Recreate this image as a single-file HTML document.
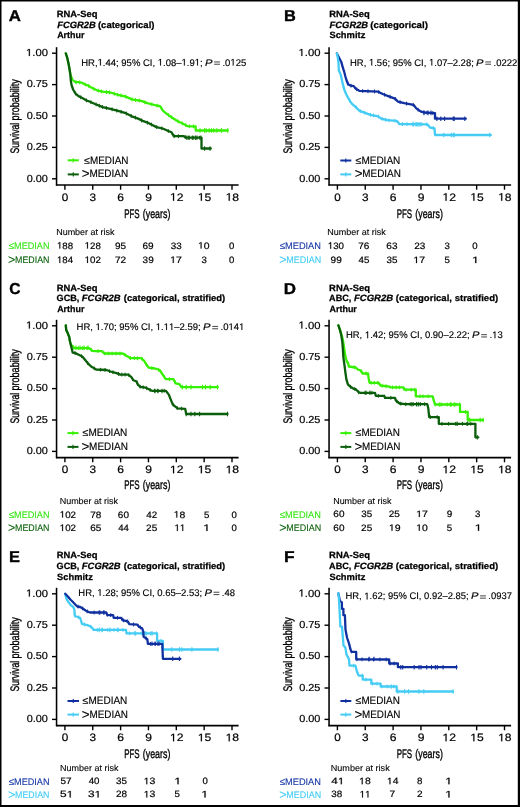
<!DOCTYPE html>
<html><head><meta charset="utf-8"><style>
html,body{margin:0;padding:0;background:#fff;}
svg{display:block;font-family:"Liberation Sans", sans-serif;}
text{white-space:pre;}
svg{will-change:transform;text-rendering:geometricPrecision;}
</style></head><body>
<svg width="520" height="807" viewBox="0 0 520 807" xmlns="http://www.w3.org/2000/svg">
<rect x="0" y="0" width="520" height="807" fill="#fff"/>
<text x="8.78" y="20.70" font-size="15.8" font-weight="bold" textLength="12.16" lengthAdjust="spacingAndGlyphs" stroke="#000" stroke-width="0.35">A</text>
<text x="56.77" y="16.55" font-size="9.1" font-weight="bold" textLength="40.66" lengthAdjust="spacingAndGlyphs" stroke="#000" stroke-width="0.25">RNA-Seq</text>
<text x="57.24" y="27.65" font-size="9.1" font-weight="bold" font-style="italic" textLength="38.51" lengthAdjust="spacingAndGlyphs" stroke="#000" stroke-width="0.25">FCGR2B</text>
<text x="97.93" y="27.65" font-size="9.1" font-weight="bold" textLength="56.55" lengthAdjust="spacingAndGlyphs" stroke="#000" stroke-width="0.25">(categorical)</text>
<text x="57.18" y="38.45" font-size="9.1" font-weight="bold" textLength="27.26" lengthAdjust="spacingAndGlyphs" stroke="#000" stroke-width="0.25">Arthur</text>
<line x1="56.55" y1="47.20" x2="56.55" y2="185.60" stroke="#000" stroke-width="1.55"/>
<line x1="55.95" y1="185.00" x2="238.60" y2="185.00" stroke="#000" stroke-width="1.6"/>
<line x1="52.00" y1="53.20" x2="56.55" y2="53.20" stroke="#000" stroke-width="1.4"/>
<path d="M28.85 56.00 L28.85 49.84 L27.10 50.97 L27.10 50.12 L28.93 48.98 L29.84 48.98 L29.84 56.00 Z" fill="#000" stroke="#000" stroke-width="0.2"/>
<text x="26.02" y="56.00" font-size="10.2" textLength="21.92" lengthAdjust="spacingAndGlyphs" stroke="#000" stroke-width="0.2"> .00</text>
<line x1="52.00" y1="84.60" x2="56.55" y2="84.60" stroke="#000" stroke-width="1.4"/>
<text x="26.67" y="87.40" font-size="10.2" textLength="21.29" lengthAdjust="spacingAndGlyphs" stroke="#000" stroke-width="0.2">0.75</text>
<line x1="52.00" y1="116.00" x2="56.55" y2="116.00" stroke="#000" stroke-width="1.4"/>
<text x="26.67" y="118.80" font-size="10.2" textLength="21.25" lengthAdjust="spacingAndGlyphs" stroke="#000" stroke-width="0.2">0.50</text>
<line x1="52.00" y1="147.40" x2="56.55" y2="147.40" stroke="#000" stroke-width="1.4"/>
<text x="26.67" y="150.20" font-size="10.2" textLength="21.29" lengthAdjust="spacingAndGlyphs" stroke="#000" stroke-width="0.2">0.25</text>
<line x1="52.00" y1="178.80" x2="56.55" y2="178.80" stroke="#000" stroke-width="1.4"/>
<text x="26.67" y="181.60" font-size="10.2" textLength="21.25" lengthAdjust="spacingAndGlyphs" stroke="#000" stroke-width="0.2">0.00</text>
<line x1="64.90" y1="185.00" x2="64.90" y2="189.70" stroke="#000" stroke-width="1.4"/>
<text x="61.74" y="200.70" font-size="10.8" textLength="6.52" lengthAdjust="spacingAndGlyphs" stroke="#000" stroke-width="0.2">0</text>
<line x1="92.75" y1="185.00" x2="92.75" y2="189.70" stroke="#000" stroke-width="1.4"/>
<text x="89.60" y="200.70" font-size="10.8" textLength="6.57" lengthAdjust="spacingAndGlyphs" stroke="#000" stroke-width="0.2">3</text>
<line x1="120.60" y1="185.00" x2="120.60" y2="189.70" stroke="#000" stroke-width="1.4"/>
<text x="117.28" y="200.70" font-size="10.8" textLength="6.75" lengthAdjust="spacingAndGlyphs" stroke="#000" stroke-width="0.2">6</text>
<line x1="148.45" y1="185.00" x2="148.45" y2="189.70" stroke="#000" stroke-width="1.4"/>
<text x="145.18" y="200.70" font-size="10.8" textLength="6.74" lengthAdjust="spacingAndGlyphs" stroke="#000" stroke-width="0.2">9</text>
<line x1="176.30" y1="185.00" x2="176.30" y2="189.70" stroke="#000" stroke-width="1.4"/>
<path d="M173.00 200.70 L173.00 194.18 L171.10 195.37 L171.10 194.48 L173.09 193.27 L174.08 193.27 L174.08 200.70 Z" fill="#000" stroke="#000" stroke-width="0.2"/>
<text x="169.92" y="200.70" font-size="10.8" textLength="13.59" lengthAdjust="spacingAndGlyphs" stroke="#000" stroke-width="0.2"> 2</text>
<line x1="204.15" y1="185.00" x2="204.15" y2="189.70" stroke="#000" stroke-width="1.4"/>
<path d="M200.83 200.70 L200.83 194.18 L198.95 195.37 L198.95 194.48 L200.92 193.27 L201.90 193.27 L201.90 200.70 Z" fill="#000" stroke="#000" stroke-width="0.2"/>
<text x="197.78" y="200.70" font-size="10.8" textLength="13.47" lengthAdjust="spacingAndGlyphs" stroke="#000" stroke-width="0.2"> 5</text>
<line x1="232.00" y1="185.00" x2="232.00" y2="189.70" stroke="#000" stroke-width="1.4"/>
<path d="M228.68 200.70 L228.68 194.18 L226.80 195.37 L226.80 194.48 L228.77 193.27 L229.76 193.27 L229.76 200.70 Z" fill="#000" stroke="#000" stroke-width="0.2"/>
<text x="225.63" y="200.70" font-size="10.8" textLength="13.49" lengthAdjust="spacingAndGlyphs" stroke="#000" stroke-width="0.2"> 8</text>
<text x="124.25" y="217.60" font-size="12.4" textLength="15.41" lengthAdjust="spacingAndGlyphs" stroke="#000" stroke-width="0.35">PFS</text>
<text x="142.85" y="217.60" font-size="12.4" textLength="27.50" lengthAdjust="spacingAndGlyphs" stroke="#000" stroke-width="0.35">(years)</text>
<text x="19.20" y="153.49" font-size="12.4" textLength="30.77" lengthAdjust="spacingAndGlyphs" stroke="#000" stroke-width="0.35" transform="rotate(-90 19.20 153.49)">Survival</text>
<text x="19.20" y="120.38" font-size="12.4" textLength="41.20" lengthAdjust="spacingAndGlyphs" stroke="#000" stroke-width="0.35" transform="rotate(-90 19.20 120.38)">probability</text>
<path d="M99.96 65.50 L99.96 59.70 L98.49 60.77 L98.49 59.97 L100.03 58.90 L100.80 58.90 L100.80 65.50 Z" fill="#000" stroke="#000" stroke-width="0.15"/>
<path d="M160.14 65.50 L160.14 59.70 L158.67 60.77 L158.67 59.97 L160.21 58.90 L160.98 58.90 L160.98 65.50 Z" fill="#000" stroke="#000" stroke-width="0.15"/>
<path d="M183.91 65.50 L183.91 59.70 L182.43 60.77 L182.43 59.97 L183.98 58.90 L184.75 58.90 L184.75 65.50 Z" fill="#000" stroke="#000" stroke-width="0.15"/>
<path d="M197.11 65.50 L197.11 59.70 L195.63 60.77 L195.63 59.97 L197.18 58.90 L197.95 58.90 L197.95 65.50 Z" fill="#000" stroke="#000" stroke-width="0.15"/>
<text x="81.22" y="65.50" font-size="9.6" textLength="124.06" lengthAdjust="spacingAndGlyphs" stroke="#000" stroke-width="0.15">HR, .44; 95% CI,  .08– .9 ; </text>
<text x="204.98" y="65.50" font-size="9.6" font-style="italic" textLength="7.47" lengthAdjust="spacingAndGlyphs" stroke="#000" stroke-width="0.15">P</text>
<line x1="214.12" y1="61.95" x2="219.92" y2="61.95" stroke="#555" stroke-width="1.1"/>
<line x1="214.12" y1="64.25" x2="219.92" y2="64.25" stroke="#555" stroke-width="1.1"/>
<path d="M232.74 65.50 L232.74 59.70 L231.27 60.77 L231.27 59.97 L232.81 58.90 L233.58 58.90 L233.58 65.50 Z" fill="#000" stroke="#000" stroke-width="0.15"/>
<text x="219.80" y="65.50" font-size="9.6" textLength="26.40" lengthAdjust="spacingAndGlyphs" stroke="#000" stroke-width="0.15"> .0 25</text>
<path d="M65.8 53.4 L67.3 58.0 L68.5 63.4 L69.6 69.5 L70.4 74.9 L70.8 75.7 L72.3 79.5 L75.4 82.2 L78.5 82.2 L81.5 82.6 L84.6 84.2 L88.5 85.7 L90.8 87.2 L93.8 88.8 L96.9 90.3 L102.7 91.7 L110.4 92.5 L118.1 94.8 L125.8 96.6 L131.9 99.4 L141.2 100.9 L147.3 103.2 L156.5 105.5 L160.0 106.2 L163.1 110.8 L167.7 114.6 L172.3 117.7 L176.9 120.8 L183.1 123.8 L187.7 126.2 L195.7 126.5 L195.7 130.5 L227.7 130.5" fill="none" stroke="#35f000" stroke-width="2.3" stroke-linejoin="round" stroke-linecap="round"/>
<line x1="200.0" y1="128.2" x2="200.0" y2="132.8" stroke="#35f000" stroke-width="1.1"/>
<line x1="204.6" y1="128.2" x2="204.6" y2="132.8" stroke="#35f000" stroke-width="1.1"/>
<line x1="206.2" y1="128.2" x2="206.2" y2="132.8" stroke="#35f000" stroke-width="1.1"/>
<line x1="209.2" y1="128.2" x2="209.2" y2="132.8" stroke="#35f000" stroke-width="1.1"/>
<line x1="211.5" y1="128.2" x2="211.5" y2="132.8" stroke="#35f000" stroke-width="1.1"/>
<line x1="213.8" y1="128.2" x2="213.8" y2="132.8" stroke="#35f000" stroke-width="1.1"/>
<line x1="216.9" y1="128.2" x2="216.9" y2="132.8" stroke="#35f000" stroke-width="1.1"/>
<line x1="221.5" y1="128.2" x2="221.5" y2="132.8" stroke="#35f000" stroke-width="1.1"/>
<line x1="227.7" y1="128.2" x2="227.7" y2="132.8" stroke="#35f000" stroke-width="1.1"/>
<line x1="76.1" y1="80.3" x2="76.1" y2="84.1" stroke="#35f000" stroke-width="1.0"/>
<line x1="79.7" y1="80.5" x2="79.7" y2="84.3" stroke="#35f000" stroke-width="1.0"/>
<line x1="85.3" y1="82.6" x2="85.3" y2="86.4" stroke="#35f000" stroke-width="1.0"/>
<line x1="88.6" y1="83.9" x2="88.6" y2="87.7" stroke="#35f000" stroke-width="1.0"/>
<line x1="93.7" y1="86.9" x2="93.7" y2="90.7" stroke="#35f000" stroke-width="1.0"/>
<line x1="98.2" y1="88.7" x2="98.2" y2="92.5" stroke="#35f000" stroke-width="1.0"/>
<line x1="101.4" y1="89.5" x2="101.4" y2="93.3" stroke="#35f000" stroke-width="1.0"/>
<line x1="106.5" y1="90.2" x2="106.5" y2="94.0" stroke="#35f000" stroke-width="1.0"/>
<line x1="109.6" y1="90.5" x2="109.6" y2="94.3" stroke="#35f000" stroke-width="1.0"/>
<line x1="114.3" y1="91.8" x2="114.3" y2="95.6" stroke="#35f000" stroke-width="1.0"/>
<line x1="117.6" y1="92.8" x2="117.6" y2="96.6" stroke="#35f000" stroke-width="1.0"/>
<line x1="121.0" y1="93.6" x2="121.0" y2="97.4" stroke="#35f000" stroke-width="1.0"/>
<line x1="125.7" y1="94.7" x2="125.7" y2="98.5" stroke="#35f000" stroke-width="1.0"/>
<line x1="132.0" y1="97.5" x2="132.0" y2="101.3" stroke="#35f000" stroke-width="1.0"/>
<line x1="135.5" y1="98.1" x2="135.5" y2="101.9" stroke="#35f000" stroke-width="1.0"/>
<line x1="139.4" y1="98.7" x2="139.4" y2="102.5" stroke="#35f000" stroke-width="1.0"/>
<line x1="144.9" y1="100.4" x2="144.9" y2="104.2" stroke="#35f000" stroke-width="1.0"/>
<line x1="151.7" y1="102.4" x2="151.7" y2="106.2" stroke="#35f000" stroke-width="1.0"/>
<line x1="157.0" y1="103.7" x2="157.0" y2="107.5" stroke="#35f000" stroke-width="1.0"/>
<line x1="161.6" y1="106.6" x2="161.6" y2="110.4" stroke="#35f000" stroke-width="1.0"/>
<line x1="168.5" y1="113.2" x2="168.5" y2="117.0" stroke="#35f000" stroke-width="1.0"/>
<line x1="171.7" y1="115.4" x2="171.7" y2="119.2" stroke="#35f000" stroke-width="1.0"/>
<line x1="178.1" y1="119.5" x2="178.1" y2="123.3" stroke="#35f000" stroke-width="1.0"/>
<line x1="182.3" y1="121.5" x2="182.3" y2="125.3" stroke="#35f000" stroke-width="1.0"/>
<line x1="185.8" y1="123.3" x2="185.8" y2="127.1" stroke="#35f000" stroke-width="1.0"/>
<line x1="189.3" y1="124.4" x2="189.3" y2="128.2" stroke="#35f000" stroke-width="1.0"/>
<line x1="193.5" y1="124.5" x2="193.5" y2="128.3" stroke="#35f000" stroke-width="1.0"/>
<path d="M65.8 53.4 L67.3 58.0 L68.5 63.4 L69.6 69.5 L70.4 74.9 L70.8 80.3 L71.5 84.9 L73.1 89.5 L75.4 93.4 L78.5 96.1 L82.3 98.0 L86.2 100.3 L90.0 101.8 L95.0 104.0 L102.7 107.1 L110.4 108.9 L118.1 110.9 L125.8 113.2 L131.9 116.3 L138.1 118.6 L142.7 120.9 L148.8 123.2 L156.5 127.1 L162.7 128.5 L167.7 130.8 L171.5 132.3 L173.8 136.2 L183.8 136.2 L186.2 137.7 L201.5 137.7 L201.5 148.5 L210.8 148.5" fill="none" stroke="#0b5e0b" stroke-width="2.3" stroke-linejoin="round" stroke-linecap="round"/>
<line x1="186.9" y1="135.4" x2="186.9" y2="140.0" stroke="#0b5e0b" stroke-width="1.1"/>
<line x1="189.2" y1="135.4" x2="189.2" y2="140.0" stroke="#0b5e0b" stroke-width="1.1"/>
<line x1="192.3" y1="135.4" x2="192.3" y2="140.0" stroke="#0b5e0b" stroke-width="1.1"/>
<line x1="195.4" y1="135.4" x2="195.4" y2="140.0" stroke="#0b5e0b" stroke-width="1.1"/>
<line x1="196.9" y1="135.4" x2="196.9" y2="140.0" stroke="#0b5e0b" stroke-width="1.1"/>
<line x1="200.8" y1="135.4" x2="200.8" y2="140.0" stroke="#0b5e0b" stroke-width="1.1"/>
<line x1="204.6" y1="146.2" x2="204.6" y2="150.8" stroke="#0b5e0b" stroke-width="1.1"/>
<line x1="210.0" y1="146.2" x2="210.0" y2="150.8" stroke="#0b5e0b" stroke-width="1.1"/>
<line x1="75.5" y1="91.6" x2="75.5" y2="95.4" stroke="#0b5e0b" stroke-width="1.0"/>
<line x1="80.8" y1="95.4" x2="80.8" y2="99.2" stroke="#0b5e0b" stroke-width="1.0"/>
<line x1="86.4" y1="98.5" x2="86.4" y2="102.3" stroke="#0b5e0b" stroke-width="1.0"/>
<line x1="90.9" y1="100.3" x2="90.9" y2="104.1" stroke="#0b5e0b" stroke-width="1.0"/>
<line x1="96.1" y1="102.5" x2="96.1" y2="106.3" stroke="#0b5e0b" stroke-width="1.0"/>
<line x1="99.3" y1="103.8" x2="99.3" y2="107.6" stroke="#0b5e0b" stroke-width="1.0"/>
<line x1="102.6" y1="105.1" x2="102.6" y2="108.9" stroke="#0b5e0b" stroke-width="1.0"/>
<line x1="106.4" y1="106.1" x2="106.4" y2="109.9" stroke="#0b5e0b" stroke-width="1.0"/>
<line x1="112.1" y1="107.4" x2="112.1" y2="111.2" stroke="#0b5e0b" stroke-width="1.0"/>
<line x1="116.8" y1="108.7" x2="116.8" y2="112.5" stroke="#0b5e0b" stroke-width="1.0"/>
<line x1="121.1" y1="109.9" x2="121.1" y2="113.7" stroke="#0b5e0b" stroke-width="1.0"/>
<line x1="126.4" y1="111.6" x2="126.4" y2="115.4" stroke="#0b5e0b" stroke-width="1.0"/>
<line x1="131.2" y1="114.1" x2="131.2" y2="117.9" stroke="#0b5e0b" stroke-width="1.0"/>
<line x1="135.4" y1="115.7" x2="135.4" y2="119.5" stroke="#0b5e0b" stroke-width="1.0"/>
<line x1="141.6" y1="118.5" x2="141.6" y2="122.3" stroke="#0b5e0b" stroke-width="1.0"/>
<line x1="147.4" y1="120.8" x2="147.4" y2="124.6" stroke="#0b5e0b" stroke-width="1.0"/>
<line x1="151.4" y1="122.6" x2="151.4" y2="126.4" stroke="#0b5e0b" stroke-width="1.0"/>
<line x1="156.7" y1="125.2" x2="156.7" y2="129.0" stroke="#0b5e0b" stroke-width="1.0"/>
<line x1="161.8" y1="126.4" x2="161.8" y2="130.2" stroke="#0b5e0b" stroke-width="1.0"/>
<line x1="168.3" y1="129.1" x2="168.3" y2="132.9" stroke="#0b5e0b" stroke-width="1.0"/>
<line x1="174.2" y1="134.3" x2="174.2" y2="138.1" stroke="#0b5e0b" stroke-width="1.0"/>
<line x1="178.4" y1="134.3" x2="178.4" y2="138.1" stroke="#0b5e0b" stroke-width="1.0"/>
<line x1="185.3" y1="135.2" x2="185.3" y2="139.0" stroke="#0b5e0b" stroke-width="1.0"/>
<line x1="188.8" y1="135.8" x2="188.8" y2="139.6" stroke="#0b5e0b" stroke-width="1.0"/>
<line x1="193.4" y1="135.8" x2="193.4" y2="139.6" stroke="#0b5e0b" stroke-width="1.0"/>
<line x1="199.5" y1="135.8" x2="199.5" y2="139.6" stroke="#0b5e0b" stroke-width="1.0"/>
<line x1="67.70" y1="160.30" x2="78.80" y2="160.30" stroke="#35f000" stroke-width="2.0"/>
<line x1="73.25" y1="158.20" x2="73.25" y2="162.40" stroke="#35f000" stroke-width="1.1"/>
<line x1="67.70" y1="174.40" x2="78.80" y2="174.40" stroke="#0b5e0b" stroke-width="2.0"/>
<line x1="73.25" y1="172.30" x2="73.25" y2="176.50" stroke="#0b5e0b" stroke-width="1.1"/>
<text x="84.07" y="164.00" font-size="10.31" textLength="5.86" lengthAdjust="spacingAndGlyphs" stroke="#000" stroke-width="0.15">≤</text>
<text x="89.99" y="163.80" font-size="10.9" textLength="38.52" lengthAdjust="spacingAndGlyphs" stroke="#000" stroke-width="0.15">MEDIAN</text>
<text x="81.84" y="177.92" font-size="13.59" textLength="7.81" lengthAdjust="spacingAndGlyphs" stroke="#000" stroke-width="0.15">&gt;</text>
<text x="89.38" y="177.30" font-size="10.9" textLength="38.83" lengthAdjust="spacingAndGlyphs" stroke="#000" stroke-width="0.15">MEDIAN</text>
<text x="56.16" y="234.70" font-size="8.8" textLength="58.42" lengthAdjust="spacingAndGlyphs" stroke="#000" stroke-width="0.1">Number at risk</text>
<text x="8.65" y="249.45" font-size="9.82" textLength="5.41" lengthAdjust="spacingAndGlyphs" fill="#33e611" stroke="#33e611" stroke-width="0.1">≤</text>
<text x="14.05" y="248.95" font-size="9.6" textLength="35.49" lengthAdjust="spacingAndGlyphs" fill="#33e611" stroke="#33e611" stroke-width="0.1">MEDIAN</text>
<text x="7.88" y="264.34" font-size="13.19" textLength="7.33" lengthAdjust="spacingAndGlyphs" fill="#0b610b" stroke="#0b610b" stroke-width="0.1">&gt;</text>
<text x="15.07" y="263.25" font-size="9.6" textLength="34.45" lengthAdjust="spacingAndGlyphs" fill="#0b610b" stroke="#0b610b" stroke-width="0.1">MEDIAN</text>
<path d="M59.41 248.60 L59.41 243.04 L57.90 244.06 L57.90 243.30 L59.48 242.27 L60.27 242.27 L60.27 248.60 Z" fill="#000" stroke="#000" stroke-width="0.2"/>
<text x="56.96" y="248.60" font-size="9.2" textLength="16.26" lengthAdjust="spacingAndGlyphs" stroke="#000" stroke-width="0.2"> 88</text>
<path d="M87.06 248.60 L87.06 243.04 L85.55 244.06 L85.55 243.30 L87.13 242.27 L87.92 242.27 L87.92 248.60 Z" fill="#000" stroke="#000" stroke-width="0.2"/>
<text x="84.61" y="248.60" font-size="9.2" textLength="16.26" lengthAdjust="spacingAndGlyphs" stroke="#000" stroke-width="0.2"> 28</text>
<text x="115.03" y="248.60" font-size="9.2" textLength="11.09" lengthAdjust="spacingAndGlyphs" stroke="#000" stroke-width="0.2">95</text>
<text x="142.49" y="248.60" font-size="9.2" textLength="11.19" lengthAdjust="spacingAndGlyphs" stroke="#000" stroke-width="0.2">69</text>
<text x="170.77" y="248.60" font-size="9.2" textLength="11.01" lengthAdjust="spacingAndGlyphs" stroke="#000" stroke-width="0.2">33</text>
<path d="M200.62 248.60 L200.62 243.04 L199.00 244.06 L199.00 243.30 L200.70 242.27 L201.54 242.27 L201.54 248.60 Z" fill="#000" stroke="#000" stroke-width="0.2"/>
<text x="198.00" y="248.60" font-size="9.2" textLength="11.61" lengthAdjust="spacingAndGlyphs" stroke="#000" stroke-width="0.2"> 0</text>
<text x="228.92" y="248.60" font-size="9.2" textLength="5.35" lengthAdjust="spacingAndGlyphs" stroke="#000" stroke-width="0.2">0</text>
<path d="M59.40 262.90 L59.40 257.34 L57.90 258.36 L57.90 257.60 L59.47 256.57 L60.25 256.57 L60.25 262.90 Z" fill="#000" stroke="#000" stroke-width="0.2"/>
<text x="56.97" y="262.90" font-size="9.2" textLength="16.11" lengthAdjust="spacingAndGlyphs" stroke="#000" stroke-width="0.2"> 84</text>
<path d="M87.07 262.90 L87.07 257.34 L85.55 258.36 L85.55 257.60 L87.14 256.57 L87.94 256.57 L87.94 262.90 Z" fill="#000" stroke="#000" stroke-width="0.2"/>
<text x="84.61" y="262.90" font-size="9.2" textLength="16.33" lengthAdjust="spacingAndGlyphs" stroke="#000" stroke-width="0.2"> 02</text>
<text x="114.98" y="262.90" font-size="9.2" textLength="11.22" lengthAdjust="spacingAndGlyphs" stroke="#000" stroke-width="0.2">72</text>
<text x="142.62" y="262.90" font-size="9.2" textLength="11.05" lengthAdjust="spacingAndGlyphs" stroke="#000" stroke-width="0.2">39</text>
<path d="M172.79 262.90 L172.79 257.34 L171.15 258.36 L171.15 257.60 L172.87 256.57 L173.72 256.57 L173.72 262.90 Z" fill="#000" stroke="#000" stroke-width="0.2"/>
<text x="170.13" y="262.90" font-size="9.2" textLength="11.75" lengthAdjust="spacingAndGlyphs" stroke="#000" stroke-width="0.2"> 7</text>
<text x="201.43" y="262.90" font-size="9.2" textLength="5.40" lengthAdjust="spacingAndGlyphs" stroke="#000" stroke-width="0.2">3</text>
<text x="228.92" y="262.90" font-size="9.2" textLength="5.35" lengthAdjust="spacingAndGlyphs" stroke="#000" stroke-width="0.2">0</text>
<text x="283.90" y="20.80" font-size="15.8" font-weight="bold" textLength="11.84" lengthAdjust="spacingAndGlyphs" stroke="#000" stroke-width="0.35">B</text>
<text x="329.17" y="16.55" font-size="9.1" font-weight="bold" textLength="40.66" lengthAdjust="spacingAndGlyphs" stroke="#000" stroke-width="0.25">RNA-Seq</text>
<text x="329.64" y="27.65" font-size="9.1" font-weight="bold" font-style="italic" textLength="38.51" lengthAdjust="spacingAndGlyphs" stroke="#000" stroke-width="0.25">FCGR2B</text>
<text x="370.32" y="27.65" font-size="9.1" font-weight="bold" textLength="57.56" lengthAdjust="spacingAndGlyphs" stroke="#000" stroke-width="0.25">(categorical)</text>
<text x="329.43" y="38.45" font-size="9.1" font-weight="bold" textLength="35.91" lengthAdjust="spacingAndGlyphs" stroke="#000" stroke-width="0.25">Schmitz</text>
<line x1="329.05" y1="47.20" x2="329.05" y2="185.60" stroke="#000" stroke-width="1.55"/>
<line x1="328.45" y1="185.00" x2="511.10" y2="185.00" stroke="#000" stroke-width="1.6"/>
<line x1="324.50" y1="53.20" x2="329.05" y2="53.20" stroke="#000" stroke-width="1.4"/>
<path d="M301.35 56.00 L301.35 49.84 L299.60 50.97 L299.60 50.12 L301.43 48.98 L302.34 48.98 L302.34 56.00 Z" fill="#000" stroke="#000" stroke-width="0.2"/>
<text x="298.52" y="56.00" font-size="10.2" textLength="21.92" lengthAdjust="spacingAndGlyphs" stroke="#000" stroke-width="0.2"> .00</text>
<line x1="324.50" y1="84.60" x2="329.05" y2="84.60" stroke="#000" stroke-width="1.4"/>
<text x="299.17" y="87.40" font-size="10.2" textLength="21.29" lengthAdjust="spacingAndGlyphs" stroke="#000" stroke-width="0.2">0.75</text>
<line x1="324.50" y1="116.00" x2="329.05" y2="116.00" stroke="#000" stroke-width="1.4"/>
<text x="299.17" y="118.80" font-size="10.2" textLength="21.25" lengthAdjust="spacingAndGlyphs" stroke="#000" stroke-width="0.2">0.50</text>
<line x1="324.50" y1="147.40" x2="329.05" y2="147.40" stroke="#000" stroke-width="1.4"/>
<text x="299.17" y="150.20" font-size="10.2" textLength="21.29" lengthAdjust="spacingAndGlyphs" stroke="#000" stroke-width="0.2">0.25</text>
<line x1="324.50" y1="178.80" x2="329.05" y2="178.80" stroke="#000" stroke-width="1.4"/>
<text x="299.17" y="181.60" font-size="10.2" textLength="21.25" lengthAdjust="spacingAndGlyphs" stroke="#000" stroke-width="0.2">0.00</text>
<line x1="337.40" y1="185.00" x2="337.40" y2="189.70" stroke="#000" stroke-width="1.4"/>
<text x="334.24" y="200.70" font-size="10.8" textLength="6.52" lengthAdjust="spacingAndGlyphs" stroke="#000" stroke-width="0.2">0</text>
<line x1="365.25" y1="185.00" x2="365.25" y2="189.70" stroke="#000" stroke-width="1.4"/>
<text x="362.10" y="200.70" font-size="10.8" textLength="6.57" lengthAdjust="spacingAndGlyphs" stroke="#000" stroke-width="0.2">3</text>
<line x1="393.10" y1="185.00" x2="393.10" y2="189.70" stroke="#000" stroke-width="1.4"/>
<text x="389.78" y="200.70" font-size="10.8" textLength="6.75" lengthAdjust="spacingAndGlyphs" stroke="#000" stroke-width="0.2">6</text>
<line x1="420.95" y1="185.00" x2="420.95" y2="189.70" stroke="#000" stroke-width="1.4"/>
<text x="417.68" y="200.70" font-size="10.8" textLength="6.74" lengthAdjust="spacingAndGlyphs" stroke="#000" stroke-width="0.2">9</text>
<line x1="448.80" y1="185.00" x2="448.80" y2="189.70" stroke="#000" stroke-width="1.4"/>
<path d="M445.50 200.70 L445.50 194.18 L443.60 195.37 L443.60 194.48 L445.59 193.27 L446.58 193.27 L446.58 200.70 Z" fill="#000" stroke="#000" stroke-width="0.2"/>
<text x="442.42" y="200.70" font-size="10.8" textLength="13.59" lengthAdjust="spacingAndGlyphs" stroke="#000" stroke-width="0.2"> 2</text>
<line x1="476.65" y1="185.00" x2="476.65" y2="189.70" stroke="#000" stroke-width="1.4"/>
<path d="M473.33 200.70 L473.33 194.18 L471.45 195.37 L471.45 194.48 L473.42 193.27 L474.40 193.27 L474.40 200.70 Z" fill="#000" stroke="#000" stroke-width="0.2"/>
<text x="470.28" y="200.70" font-size="10.8" textLength="13.47" lengthAdjust="spacingAndGlyphs" stroke="#000" stroke-width="0.2"> 5</text>
<line x1="504.50" y1="185.00" x2="504.50" y2="189.70" stroke="#000" stroke-width="1.4"/>
<path d="M501.18 200.70 L501.18 194.18 L499.30 195.37 L499.30 194.48 L501.27 193.27 L502.26 193.27 L502.26 200.70 Z" fill="#000" stroke="#000" stroke-width="0.2"/>
<text x="498.13" y="200.70" font-size="10.8" textLength="13.49" lengthAdjust="spacingAndGlyphs" stroke="#000" stroke-width="0.2"> 8</text>
<text x="396.75" y="217.60" font-size="12.4" textLength="15.41" lengthAdjust="spacingAndGlyphs" stroke="#000" stroke-width="0.35">PFS</text>
<text x="415.35" y="217.60" font-size="12.4" textLength="27.50" lengthAdjust="spacingAndGlyphs" stroke="#000" stroke-width="0.35">(years)</text>
<text x="291.70" y="153.49" font-size="12.4" textLength="30.77" lengthAdjust="spacingAndGlyphs" stroke="#000" stroke-width="0.35" transform="rotate(-90 291.70 153.49)">Survival</text>
<text x="291.70" y="120.38" font-size="12.4" textLength="41.20" lengthAdjust="spacingAndGlyphs" stroke="#000" stroke-width="0.35" transform="rotate(-90 291.70 120.38)">probability</text>
<path d="M371.36 65.50 L371.36 59.70 L369.89 60.77 L369.89 59.97 L371.43 58.90 L372.19 58.90 L372.19 65.50 Z" fill="#000" stroke="#000" stroke-width="0.15"/>
<path d="M431.41 65.50 L431.41 59.70 L429.93 60.77 L429.93 59.97 L431.47 58.90 L432.24 58.90 L432.24 65.50 Z" fill="#000" stroke="#000" stroke-width="0.15"/>
<text x="350.02" y="65.50" font-size="9.6" textLength="126.42" lengthAdjust="spacingAndGlyphs" stroke="#000" stroke-width="0.15">HR,  .56; 95% CI,  .07–2.28; </text>
<text x="476.14" y="65.50" font-size="9.6" font-style="italic" textLength="7.46" lengthAdjust="spacingAndGlyphs" stroke="#000" stroke-width="0.15">P</text>
<line x1="485.26" y1="61.95" x2="491.06" y2="61.95" stroke="#555" stroke-width="1.1"/>
<line x1="485.26" y1="64.25" x2="491.06" y2="64.25" stroke="#555" stroke-width="1.1"/>
<text x="490.93" y="65.50" font-size="9.6" textLength="26.35" lengthAdjust="spacingAndGlyphs" stroke="#000" stroke-width="0.15"> .0222</text>
<path d="M336.9 53.4 L340.0 59.5 L341.5 62.6 L342.7 67.2 L344.2 71.8 L345.4 76.5 L346.5 80.3 L348.1 84.2 L350.8 85.7 L353.8 86.1 L355.4 88.4 L358.5 90.3 L359.6 90.9 L378.1 91.7 L382.7 94.0 L388.8 96.3 L395.0 98.6 L398.1 101.7 L404.2 103.2 L413.5 104.8 L416.5 108.6 L421.2 111.7 L424.2 112.5 L435.0 113.2 L435.0 118.7 L465.8 118.7" fill="none" stroke="#1030a0" stroke-width="2.3" stroke-linejoin="round" stroke-linecap="round"/>
<line x1="436.9" y1="116.4" x2="436.9" y2="121.0" stroke="#1030a0" stroke-width="1.1"/>
<line x1="440.8" y1="116.4" x2="440.8" y2="121.0" stroke="#1030a0" stroke-width="1.1"/>
<line x1="444.6" y1="116.4" x2="444.6" y2="121.0" stroke="#1030a0" stroke-width="1.1"/>
<line x1="453.3" y1="116.4" x2="453.3" y2="121.0" stroke="#1030a0" stroke-width="1.1"/>
<line x1="454.2" y1="116.4" x2="454.2" y2="121.0" stroke="#1030a0" stroke-width="1.1"/>
<line x1="464.8" y1="116.4" x2="464.8" y2="121.0" stroke="#1030a0" stroke-width="1.1"/>
<line x1="424.0" y1="110.6" x2="424.0" y2="115.2" stroke="#1030a0" stroke-width="1.1"/>
<line x1="428.0" y1="110.6" x2="428.0" y2="115.2" stroke="#1030a0" stroke-width="1.1"/>
<line x1="431.0" y1="110.6" x2="431.0" y2="115.2" stroke="#1030a0" stroke-width="1.1"/>
<line x1="347.9" y1="81.7" x2="347.9" y2="85.5" stroke="#1030a0" stroke-width="1.0"/>
<line x1="351.0" y1="83.8" x2="351.0" y2="87.6" stroke="#1030a0" stroke-width="1.0"/>
<line x1="356.7" y1="87.3" x2="356.7" y2="91.1" stroke="#1030a0" stroke-width="1.0"/>
<line x1="362.7" y1="89.1" x2="362.7" y2="92.9" stroke="#1030a0" stroke-width="1.0"/>
<line x1="368.0" y1="89.4" x2="368.0" y2="93.2" stroke="#1030a0" stroke-width="1.0"/>
<line x1="374.5" y1="89.6" x2="374.5" y2="93.4" stroke="#1030a0" stroke-width="1.0"/>
<line x1="378.8" y1="90.1" x2="378.8" y2="93.9" stroke="#1030a0" stroke-width="1.0"/>
<line x1="384.6" y1="92.8" x2="384.6" y2="96.6" stroke="#1030a0" stroke-width="1.0"/>
<line x1="390.0" y1="94.8" x2="390.0" y2="98.6" stroke="#1030a0" stroke-width="1.0"/>
<line x1="395.3" y1="97.0" x2="395.3" y2="100.8" stroke="#1030a0" stroke-width="1.0"/>
<line x1="400.1" y1="100.3" x2="400.1" y2="104.1" stroke="#1030a0" stroke-width="1.0"/>
<line x1="406.5" y1="101.7" x2="406.5" y2="105.5" stroke="#1030a0" stroke-width="1.0"/>
<line x1="413.2" y1="102.9" x2="413.2" y2="106.7" stroke="#1030a0" stroke-width="1.0"/>
<line x1="418.1" y1="107.8" x2="418.1" y2="111.6" stroke="#1030a0" stroke-width="1.0"/>
<line x1="423.8" y1="110.5" x2="423.8" y2="114.3" stroke="#1030a0" stroke-width="1.0"/>
<line x1="427.0" y1="110.8" x2="427.0" y2="114.6" stroke="#1030a0" stroke-width="1.0"/>
<line x1="432.8" y1="111.2" x2="432.8" y2="115.0" stroke="#1030a0" stroke-width="1.0"/>
<path d="M336.9 53.4 L337.7 57.2 L338.5 63.4 L338.8 70.3 L340.8 74.9 L342.3 81.8 L343.8 88.0 L345.4 92.6 L347.7 97.2 L350.0 101.1 L352.3 104.2 L356.2 107.5 L359.6 110.9 L365.8 113.2 L370.4 114.8 L378.1 116.3 L381.2 118.6 L387.3 120.2 L396.5 120.9 L399.6 124.0 L427.3 124.3 L430.0 127.5 L434.5 128.3 L435.0 135.0 L490.8 135.0" fill="none" stroke="#44ccf4" stroke-width="2.3" stroke-linejoin="round" stroke-linecap="round"/>
<line x1="443.7" y1="132.7" x2="443.7" y2="137.3" stroke="#44ccf4" stroke-width="1.1"/>
<line x1="451.3" y1="132.7" x2="451.3" y2="137.3" stroke="#44ccf4" stroke-width="1.1"/>
<line x1="453.3" y1="132.7" x2="453.3" y2="137.3" stroke="#44ccf4" stroke-width="1.1"/>
<line x1="454.2" y1="132.7" x2="454.2" y2="137.3" stroke="#44ccf4" stroke-width="1.1"/>
<line x1="489.8" y1="132.7" x2="489.8" y2="137.3" stroke="#44ccf4" stroke-width="1.1"/>
<line x1="413.0" y1="122.1" x2="413.0" y2="126.7" stroke="#44ccf4" stroke-width="1.1"/>
<line x1="416.0" y1="122.1" x2="416.0" y2="126.7" stroke="#44ccf4" stroke-width="1.1"/>
<line x1="418.0" y1="122.1" x2="418.0" y2="126.7" stroke="#44ccf4" stroke-width="1.1"/>
<line x1="420.0" y1="122.1" x2="420.0" y2="126.7" stroke="#44ccf4" stroke-width="1.1"/>
<line x1="349.9" y1="99.0" x2="349.9" y2="102.8" stroke="#44ccf4" stroke-width="1.0"/>
<line x1="356.2" y1="105.6" x2="356.2" y2="109.4" stroke="#44ccf4" stroke-width="1.0"/>
<line x1="360.3" y1="109.3" x2="360.3" y2="113.1" stroke="#44ccf4" stroke-width="1.0"/>
<line x1="364.8" y1="110.9" x2="364.8" y2="114.7" stroke="#44ccf4" stroke-width="1.0"/>
<line x1="370.5" y1="112.9" x2="370.5" y2="116.7" stroke="#44ccf4" stroke-width="1.0"/>
<line x1="373.6" y1="113.5" x2="373.6" y2="117.3" stroke="#44ccf4" stroke-width="1.0"/>
<line x1="378.5" y1="114.7" x2="378.5" y2="118.5" stroke="#44ccf4" stroke-width="1.0"/>
<line x1="382.1" y1="116.9" x2="382.1" y2="120.7" stroke="#44ccf4" stroke-width="1.0"/>
<line x1="385.6" y1="117.9" x2="385.6" y2="121.7" stroke="#44ccf4" stroke-width="1.0"/>
<line x1="388.8" y1="118.4" x2="388.8" y2="122.2" stroke="#44ccf4" stroke-width="1.0"/>
<line x1="394.9" y1="118.9" x2="394.9" y2="122.7" stroke="#44ccf4" stroke-width="1.0"/>
<line x1="398.4" y1="120.9" x2="398.4" y2="124.7" stroke="#44ccf4" stroke-width="1.0"/>
<line x1="402.4" y1="122.1" x2="402.4" y2="125.9" stroke="#44ccf4" stroke-width="1.0"/>
<line x1="407.0" y1="122.2" x2="407.0" y2="126.0" stroke="#44ccf4" stroke-width="1.0"/>
<line x1="413.5" y1="122.3" x2="413.5" y2="126.1" stroke="#44ccf4" stroke-width="1.0"/>
<line x1="416.8" y1="122.3" x2="416.8" y2="126.1" stroke="#44ccf4" stroke-width="1.0"/>
<line x1="421.6" y1="122.3" x2="421.6" y2="126.1" stroke="#44ccf4" stroke-width="1.0"/>
<line x1="426.8" y1="122.4" x2="426.8" y2="126.2" stroke="#44ccf4" stroke-width="1.0"/>
<line x1="433.3" y1="126.2" x2="433.3" y2="130.0" stroke="#44ccf4" stroke-width="1.0"/>
<line x1="340.30" y1="160.50" x2="351.30" y2="160.50" stroke="#1030a0" stroke-width="2.0"/>
<line x1="345.80" y1="158.40" x2="345.80" y2="162.60" stroke="#1030a0" stroke-width="1.1"/>
<line x1="340.30" y1="174.40" x2="351.30" y2="174.40" stroke="#44ccf4" stroke-width="2.0"/>
<line x1="345.80" y1="172.30" x2="345.80" y2="176.50" stroke="#44ccf4" stroke-width="1.1"/>
<text x="355.47" y="164.00" font-size="10.31" textLength="5.86" lengthAdjust="spacingAndGlyphs" stroke="#000" stroke-width="0.15">≤</text>
<text x="361.38" y="163.80" font-size="10.9" textLength="38.94" lengthAdjust="spacingAndGlyphs" stroke="#000" stroke-width="0.15">MEDIAN</text>
<text x="354.74" y="177.92" font-size="13.59" textLength="7.81" lengthAdjust="spacingAndGlyphs" stroke="#000" stroke-width="0.15">&gt;</text>
<text x="362.29" y="177.30" font-size="10.9" textLength="38.52" lengthAdjust="spacingAndGlyphs" stroke="#000" stroke-width="0.15">MEDIAN</text>
<text x="327.36" y="234.70" font-size="8.8" textLength="58.42" lengthAdjust="spacingAndGlyphs" stroke="#000" stroke-width="0.1">Number at risk</text>
<text x="279.65" y="249.45" font-size="9.82" textLength="5.41" lengthAdjust="spacingAndGlyphs" fill="#1535a5" stroke="#1535a5" stroke-width="0.1">≤</text>
<text x="285.04" y="248.95" font-size="9.6" textLength="35.91" lengthAdjust="spacingAndGlyphs" fill="#1535a5" stroke="#1535a5" stroke-width="0.1">MEDIAN</text>
<text x="279.18" y="264.34" font-size="13.19" textLength="7.33" lengthAdjust="spacingAndGlyphs" fill="#40ccf4" stroke="#40ccf4" stroke-width="0.1">&gt;</text>
<text x="286.37" y="263.25" font-size="9.6" textLength="34.76" lengthAdjust="spacingAndGlyphs" fill="#40ccf4" stroke="#40ccf4" stroke-width="0.1">MEDIAN</text>
<path d="M330.26 248.70 L330.26 243.14 L328.75 244.16 L328.75 243.40 L330.33 242.37 L331.12 242.37 L331.12 248.70 Z" fill="#000" stroke="#000" stroke-width="0.2"/>
<text x="327.82" y="248.70" font-size="9.2" textLength="16.21" lengthAdjust="spacingAndGlyphs" stroke="#000" stroke-width="0.2"> 30</text>
<text x="358.29" y="248.70" font-size="9.2" textLength="11.15" lengthAdjust="spacingAndGlyphs" stroke="#000" stroke-width="0.2">76</text>
<text x="386.39" y="248.70" font-size="9.2" textLength="11.15" lengthAdjust="spacingAndGlyphs" stroke="#000" stroke-width="0.2">63</text>
<text x="414.15" y="248.70" font-size="9.2" textLength="11.14" lengthAdjust="spacingAndGlyphs" stroke="#000" stroke-width="0.2">23</text>
<text x="444.58" y="248.70" font-size="9.2" textLength="5.40" lengthAdjust="spacingAndGlyphs" stroke="#000" stroke-width="0.2">3</text>
<text x="472.32" y="248.70" font-size="9.2" textLength="5.35" lengthAdjust="spacingAndGlyphs" stroke="#000" stroke-width="0.2">0</text>
<text x="330.63" y="263.10" font-size="9.2" textLength="11.14" lengthAdjust="spacingAndGlyphs" stroke="#000" stroke-width="0.2">99</text>
<text x="358.58" y="263.10" font-size="9.2" textLength="10.83" lengthAdjust="spacingAndGlyphs" stroke="#000" stroke-width="0.2">45</text>
<text x="386.52" y="263.10" font-size="9.2" textLength="10.99" lengthAdjust="spacingAndGlyphs" stroke="#000" stroke-width="0.2">35</text>
<path d="M416.04 263.10 L416.04 257.54 L414.40 258.56 L414.40 257.80 L416.12 256.77 L416.97 256.77 L416.97 263.10 Z" fill="#000" stroke="#000" stroke-width="0.2"/>
<text x="413.38" y="263.10" font-size="9.2" textLength="11.75" lengthAdjust="spacingAndGlyphs" stroke="#000" stroke-width="0.2"> 7</text>
<text x="444.56" y="263.10" font-size="9.2" textLength="5.40" lengthAdjust="spacingAndGlyphs" stroke="#000" stroke-width="0.2">5</text>
<path d="M475.19 263.10 L475.19 257.54 L473.15 258.56 L473.15 257.80 L475.29 256.77 L476.35 256.77 L476.35 263.10 Z" fill="#000" stroke="#000" stroke-width="0.2"/>
<text x="471.89" y="263.10" font-size="9.2" textLength="7.30" lengthAdjust="spacingAndGlyphs" stroke="#000" stroke-width="0.2"> </text>
<text x="9.36" y="294.40" font-size="15.8" font-weight="bold" textLength="11.27" lengthAdjust="spacingAndGlyphs" stroke="#000" stroke-width="0.35">C</text>
<text x="56.77" y="290.55" font-size="9.1" font-weight="bold" textLength="40.66" lengthAdjust="spacingAndGlyphs" stroke="#000" stroke-width="0.25">RNA-Seq</text>
<text x="56.63" y="301.35" font-size="9.1" font-weight="bold" textLength="22.78" lengthAdjust="spacingAndGlyphs" stroke="#000" stroke-width="0.25">GCB,</text>
<text x="81.83" y="301.35" font-size="9.1" font-weight="bold" font-style="italic" textLength="38.82" lengthAdjust="spacingAndGlyphs" stroke="#000" stroke-width="0.25">FCGR2B</text>
<text x="123.83" y="301.35" font-size="9.1" font-weight="bold" textLength="101.44" lengthAdjust="spacingAndGlyphs" stroke="#000" stroke-width="0.25">(categorical, stratified)</text>
<text x="57.18" y="312.45" font-size="9.1" font-weight="bold" textLength="27.26" lengthAdjust="spacingAndGlyphs" stroke="#000" stroke-width="0.25">Arthur</text>
<line x1="56.55" y1="319.80" x2="56.55" y2="458.20" stroke="#000" stroke-width="1.55"/>
<line x1="55.95" y1="457.60" x2="238.60" y2="457.60" stroke="#000" stroke-width="1.6"/>
<line x1="52.00" y1="325.80" x2="56.55" y2="325.80" stroke="#000" stroke-width="1.4"/>
<path d="M28.85 328.60 L28.85 322.44 L27.10 323.57 L27.10 322.72 L28.93 321.58 L29.84 321.58 L29.84 328.60 Z" fill="#000" stroke="#000" stroke-width="0.2"/>
<text x="26.02" y="328.60" font-size="10.2" textLength="21.92" lengthAdjust="spacingAndGlyphs" stroke="#000" stroke-width="0.2"> .00</text>
<line x1="52.00" y1="357.20" x2="56.55" y2="357.20" stroke="#000" stroke-width="1.4"/>
<text x="26.67" y="360.00" font-size="10.2" textLength="21.29" lengthAdjust="spacingAndGlyphs" stroke="#000" stroke-width="0.2">0.75</text>
<line x1="52.00" y1="388.60" x2="56.55" y2="388.60" stroke="#000" stroke-width="1.4"/>
<text x="26.67" y="391.40" font-size="10.2" textLength="21.25" lengthAdjust="spacingAndGlyphs" stroke="#000" stroke-width="0.2">0.50</text>
<line x1="52.00" y1="420.00" x2="56.55" y2="420.00" stroke="#000" stroke-width="1.4"/>
<text x="26.67" y="422.80" font-size="10.2" textLength="21.29" lengthAdjust="spacingAndGlyphs" stroke="#000" stroke-width="0.2">0.25</text>
<line x1="52.00" y1="451.40" x2="56.55" y2="451.40" stroke="#000" stroke-width="1.4"/>
<text x="26.67" y="454.20" font-size="10.2" textLength="21.25" lengthAdjust="spacingAndGlyphs" stroke="#000" stroke-width="0.2">0.00</text>
<line x1="64.90" y1="457.60" x2="64.90" y2="462.30" stroke="#000" stroke-width="1.4"/>
<text x="61.74" y="473.30" font-size="10.8" textLength="6.52" lengthAdjust="spacingAndGlyphs" stroke="#000" stroke-width="0.2">0</text>
<line x1="92.75" y1="457.60" x2="92.75" y2="462.30" stroke="#000" stroke-width="1.4"/>
<text x="89.60" y="473.30" font-size="10.8" textLength="6.57" lengthAdjust="spacingAndGlyphs" stroke="#000" stroke-width="0.2">3</text>
<line x1="120.60" y1="457.60" x2="120.60" y2="462.30" stroke="#000" stroke-width="1.4"/>
<text x="117.28" y="473.30" font-size="10.8" textLength="6.75" lengthAdjust="spacingAndGlyphs" stroke="#000" stroke-width="0.2">6</text>
<line x1="148.45" y1="457.60" x2="148.45" y2="462.30" stroke="#000" stroke-width="1.4"/>
<text x="145.18" y="473.30" font-size="10.8" textLength="6.74" lengthAdjust="spacingAndGlyphs" stroke="#000" stroke-width="0.2">9</text>
<line x1="176.30" y1="457.60" x2="176.30" y2="462.30" stroke="#000" stroke-width="1.4"/>
<path d="M173.00 473.30 L173.00 466.78 L171.10 467.97 L171.10 467.08 L173.09 465.87 L174.08 465.87 L174.08 473.30 Z" fill="#000" stroke="#000" stroke-width="0.2"/>
<text x="169.92" y="473.30" font-size="10.8" textLength="13.59" lengthAdjust="spacingAndGlyphs" stroke="#000" stroke-width="0.2"> 2</text>
<line x1="204.15" y1="457.60" x2="204.15" y2="462.30" stroke="#000" stroke-width="1.4"/>
<path d="M200.83 473.30 L200.83 466.78 L198.95 467.97 L198.95 467.08 L200.92 465.87 L201.90 465.87 L201.90 473.30 Z" fill="#000" stroke="#000" stroke-width="0.2"/>
<text x="197.78" y="473.30" font-size="10.8" textLength="13.47" lengthAdjust="spacingAndGlyphs" stroke="#000" stroke-width="0.2"> 5</text>
<line x1="232.00" y1="457.60" x2="232.00" y2="462.30" stroke="#000" stroke-width="1.4"/>
<path d="M228.68 473.30 L228.68 466.78 L226.80 467.97 L226.80 467.08 L228.77 465.87 L229.76 465.87 L229.76 473.30 Z" fill="#000" stroke="#000" stroke-width="0.2"/>
<text x="225.63" y="473.30" font-size="10.8" textLength="13.49" lengthAdjust="spacingAndGlyphs" stroke="#000" stroke-width="0.2"> 8</text>
<text x="124.25" y="488.60" font-size="12.4" textLength="15.41" lengthAdjust="spacingAndGlyphs" stroke="#000" stroke-width="0.35">PFS</text>
<text x="142.85" y="488.60" font-size="12.4" textLength="27.50" lengthAdjust="spacingAndGlyphs" stroke="#000" stroke-width="0.35">(years)</text>
<text x="19.20" y="423.59" font-size="12.4" textLength="30.77" lengthAdjust="spacingAndGlyphs" stroke="#000" stroke-width="0.35" transform="rotate(-90 19.20 423.59)">Survival</text>
<text x="19.20" y="390.48" font-size="12.4" textLength="41.20" lengthAdjust="spacingAndGlyphs" stroke="#000" stroke-width="0.35" transform="rotate(-90 19.20 390.48)">probability</text>
<path d="M97.93 330.00 L97.93 324.20 L96.45 325.27 L96.45 324.47 L98.00 323.40 L98.77 323.40 L98.77 330.00 Z" fill="#000" stroke="#000" stroke-width="0.15"/>
<path d="M158.19 330.00 L158.19 324.20 L156.71 325.27 L156.71 324.47 L158.26 323.40 L159.03 323.40 L159.03 330.00 Z" fill="#000" stroke="#000" stroke-width="0.15"/>
<path d="M166.12 330.00 L166.12 324.20 L164.64 325.27 L164.64 324.47 L166.19 323.40 L166.96 323.40 L166.96 330.00 Z" fill="#000" stroke="#000" stroke-width="0.15"/>
<path d="M171.41 330.00 L171.41 324.20 L169.93 325.27 L169.93 324.47 L171.47 323.40 L172.25 323.40 L172.25 330.00 Z" fill="#000" stroke="#000" stroke-width="0.15"/>
<text x="76.52" y="330.00" font-size="9.6" textLength="126.86" lengthAdjust="spacingAndGlyphs" stroke="#000" stroke-width="0.15">HR,  .70; 95% CI,  .  –2.59; </text>
<text x="203.08" y="330.00" font-size="9.6" font-style="italic" textLength="7.48" lengthAdjust="spacingAndGlyphs" stroke="#000" stroke-width="0.15">P</text>
<line x1="212.24" y1="326.45" x2="218.04" y2="326.45" stroke="#555" stroke-width="1.1"/>
<line x1="212.24" y1="328.75" x2="218.04" y2="328.75" stroke="#555" stroke-width="1.1"/>
<path d="M230.88 330.00 L230.88 324.20 L229.41 325.27 L229.41 324.47 L230.95 323.40 L231.72 323.40 L231.72 330.00 Z" fill="#000" stroke="#000" stroke-width="0.15"/>
<path d="M241.46 330.00 L241.46 324.20 L239.98 325.27 L239.98 324.47 L241.53 323.40 L242.30 323.40 L242.30 330.00 Z" fill="#000" stroke="#000" stroke-width="0.15"/>
<text x="217.92" y="330.00" font-size="9.6" textLength="26.44" lengthAdjust="spacingAndGlyphs" stroke="#000" stroke-width="0.15"> .0 4 </text>
<path d="M65.8 325.4 L66.2 330.0 L67.7 333.1 L69.2 336.9 L70.0 341.5 L70.8 344.6 L73.5 346.9 L73.8 348.1 L89.2 348.1 L92.3 350.8 L95.0 351.1 L101.9 351.1 L104.2 353.5 L122.7 353.5 L127.3 356.2 L130.4 358.2 L141.2 358.2 L144.2 360.8 L145.8 363.8 L148.8 367.7 L155.0 368.5 L159.6 370.0 L162.7 374.6 L165.8 379.2 L173.5 379.2 L175.6 383.3 L179.4 384.2 L181.3 387.1 L217.8 387.1" fill="none" stroke="#35f000" stroke-width="2.3" stroke-linejoin="round" stroke-linecap="round"/>
<line x1="182.3" y1="384.8" x2="182.3" y2="389.4" stroke="#35f000" stroke-width="1.1"/>
<line x1="186.2" y1="384.8" x2="186.2" y2="389.4" stroke="#35f000" stroke-width="1.1"/>
<line x1="191.0" y1="384.8" x2="191.0" y2="389.4" stroke="#35f000" stroke-width="1.1"/>
<line x1="202.5" y1="384.8" x2="202.5" y2="389.4" stroke="#35f000" stroke-width="1.1"/>
<line x1="205.4" y1="384.8" x2="205.4" y2="389.4" stroke="#35f000" stroke-width="1.1"/>
<line x1="210.2" y1="384.8" x2="210.2" y2="389.4" stroke="#35f000" stroke-width="1.1"/>
<line x1="217.6" y1="384.8" x2="217.6" y2="389.4" stroke="#35f000" stroke-width="1.1"/>
<line x1="76.0" y1="345.4" x2="76.0" y2="350.0" stroke="#35f000" stroke-width="1.1"/>
<line x1="80.0" y1="345.4" x2="80.0" y2="350.0" stroke="#35f000" stroke-width="1.1"/>
<line x1="84.0" y1="345.4" x2="84.0" y2="350.0" stroke="#35f000" stroke-width="1.1"/>
<line x1="88.0" y1="345.4" x2="88.0" y2="350.0" stroke="#35f000" stroke-width="1.1"/>
<line x1="78.3" y1="346.2" x2="78.3" y2="350.0" stroke="#35f000" stroke-width="1.0"/>
<line x1="82.4" y1="346.2" x2="82.4" y2="350.0" stroke="#35f000" stroke-width="1.0"/>
<line x1="87.0" y1="346.2" x2="87.0" y2="350.0" stroke="#35f000" stroke-width="1.0"/>
<line x1="91.5" y1="348.2" x2="91.5" y2="352.0" stroke="#35f000" stroke-width="1.0"/>
<line x1="98.0" y1="349.2" x2="98.0" y2="353.0" stroke="#35f000" stroke-width="1.0"/>
<line x1="104.8" y1="351.6" x2="104.8" y2="355.4" stroke="#35f000" stroke-width="1.0"/>
<line x1="108.4" y1="351.6" x2="108.4" y2="355.4" stroke="#35f000" stroke-width="1.0"/>
<line x1="112.1" y1="351.6" x2="112.1" y2="355.4" stroke="#35f000" stroke-width="1.0"/>
<line x1="116.1" y1="351.6" x2="116.1" y2="355.4" stroke="#35f000" stroke-width="1.0"/>
<line x1="120.0" y1="351.6" x2="120.0" y2="355.4" stroke="#35f000" stroke-width="1.0"/>
<line x1="124.9" y1="352.9" x2="124.9" y2="356.7" stroke="#35f000" stroke-width="1.0"/>
<line x1="130.3" y1="356.2" x2="130.3" y2="360.0" stroke="#35f000" stroke-width="1.0"/>
<line x1="134.4" y1="356.3" x2="134.4" y2="360.1" stroke="#35f000" stroke-width="1.0"/>
<line x1="137.4" y1="356.3" x2="137.4" y2="360.1" stroke="#35f000" stroke-width="1.0"/>
<line x1="142.0" y1="357.0" x2="142.0" y2="360.8" stroke="#35f000" stroke-width="1.0"/>
<line x1="146.5" y1="362.8" x2="146.5" y2="366.6" stroke="#35f000" stroke-width="1.0"/>
<line x1="151.8" y1="366.2" x2="151.8" y2="370.0" stroke="#35f000" stroke-width="1.0"/>
<line x1="158.6" y1="367.8" x2="158.6" y2="371.6" stroke="#35f000" stroke-width="1.0"/>
<line x1="164.4" y1="375.2" x2="164.4" y2="379.0" stroke="#35f000" stroke-width="1.0"/>
<line x1="169.4" y1="377.3" x2="169.4" y2="381.1" stroke="#35f000" stroke-width="1.0"/>
<line x1="174.9" y1="380.0" x2="174.9" y2="383.8" stroke="#35f000" stroke-width="1.0"/>
<path d="M65.8 325.4 L66.2 330.0 L67.7 333.1 L69.2 336.9 L70.0 341.5 L71.2 346.2 L71.9 349.2 L72.7 352.7 L75.4 353.1 L79.2 355.0 L82.3 356.5 L84.6 359.2 L87.7 363.1 L90.8 366.2 L93.8 368.1 L96.2 369.5 L106.5 370.0 L110.4 371.5 L116.5 373.1 L120.4 374.6 L128.1 374.6 L131.2 376.9 L133.5 380.3 L136.5 381.5 L138.1 384.9 L140.4 386.9 L145.8 387.7 L148.8 389.2 L151.9 390.8 L165.8 390.8 L168.8 394.6 L170.8 399.6 L172.7 404.4 L177.5 408.3 L185.2 408.8 L186.2 414.0 L227.5 414.0" fill="none" stroke="#0b5e0b" stroke-width="2.3" stroke-linejoin="round" stroke-linecap="round"/>
<line x1="186.2" y1="411.7" x2="186.2" y2="416.3" stroke="#0b5e0b" stroke-width="1.1"/>
<line x1="191.0" y1="411.7" x2="191.0" y2="416.3" stroke="#0b5e0b" stroke-width="1.1"/>
<line x1="194.8" y1="411.7" x2="194.8" y2="416.3" stroke="#0b5e0b" stroke-width="1.1"/>
<line x1="199.6" y1="411.7" x2="199.6" y2="416.3" stroke="#0b5e0b" stroke-width="1.1"/>
<line x1="227.5" y1="411.7" x2="227.5" y2="416.3" stroke="#0b5e0b" stroke-width="1.1"/>
<line x1="155.0" y1="388.7" x2="155.0" y2="393.3" stroke="#0b5e0b" stroke-width="1.1"/>
<line x1="158.0" y1="388.7" x2="158.0" y2="393.3" stroke="#0b5e0b" stroke-width="1.1"/>
<line x1="162.0" y1="388.7" x2="162.0" y2="393.3" stroke="#0b5e0b" stroke-width="1.1"/>
<line x1="75.0" y1="351.1" x2="75.0" y2="354.9" stroke="#0b5e0b" stroke-width="1.0"/>
<line x1="81.6" y1="354.3" x2="81.6" y2="358.1" stroke="#0b5e0b" stroke-width="1.0"/>
<line x1="87.7" y1="361.2" x2="87.7" y2="365.0" stroke="#0b5e0b" stroke-width="1.0"/>
<line x1="94.2" y1="366.5" x2="94.2" y2="370.3" stroke="#0b5e0b" stroke-width="1.0"/>
<line x1="100.4" y1="367.8" x2="100.4" y2="371.6" stroke="#0b5e0b" stroke-width="1.0"/>
<line x1="105.0" y1="368.0" x2="105.0" y2="371.8" stroke="#0b5e0b" stroke-width="1.0"/>
<line x1="109.6" y1="369.3" x2="109.6" y2="373.1" stroke="#0b5e0b" stroke-width="1.0"/>
<line x1="113.0" y1="370.3" x2="113.0" y2="374.1" stroke="#0b5e0b" stroke-width="1.0"/>
<line x1="118.5" y1="372.0" x2="118.5" y2="375.8" stroke="#0b5e0b" stroke-width="1.0"/>
<line x1="121.8" y1="372.7" x2="121.8" y2="376.5" stroke="#0b5e0b" stroke-width="1.0"/>
<line x1="125.1" y1="372.7" x2="125.1" y2="376.5" stroke="#0b5e0b" stroke-width="1.0"/>
<line x1="128.9" y1="373.3" x2="128.9" y2="377.1" stroke="#0b5e0b" stroke-width="1.0"/>
<line x1="132.5" y1="377.0" x2="132.5" y2="380.8" stroke="#0b5e0b" stroke-width="1.0"/>
<line x1="136.9" y1="380.5" x2="136.9" y2="384.3" stroke="#0b5e0b" stroke-width="1.0"/>
<line x1="140.1" y1="384.8" x2="140.1" y2="388.6" stroke="#0b5e0b" stroke-width="1.0"/>
<line x1="143.1" y1="385.4" x2="143.1" y2="389.2" stroke="#0b5e0b" stroke-width="1.0"/>
<line x1="146.7" y1="386.3" x2="146.7" y2="390.1" stroke="#0b5e0b" stroke-width="1.0"/>
<line x1="150.1" y1="388.0" x2="150.1" y2="391.8" stroke="#0b5e0b" stroke-width="1.0"/>
<line x1="154.6" y1="388.9" x2="154.6" y2="392.7" stroke="#0b5e0b" stroke-width="1.0"/>
<line x1="157.7" y1="388.9" x2="157.7" y2="392.7" stroke="#0b5e0b" stroke-width="1.0"/>
<line x1="164.2" y1="388.9" x2="164.2" y2="392.7" stroke="#0b5e0b" stroke-width="1.0"/>
<line x1="169.6" y1="394.8" x2="169.6" y2="398.6" stroke="#0b5e0b" stroke-width="1.0"/>
<line x1="173.2" y1="402.9" x2="173.2" y2="406.7" stroke="#0b5e0b" stroke-width="1.0"/>
<line x1="177.2" y1="406.2" x2="177.2" y2="410.0" stroke="#0b5e0b" stroke-width="1.0"/>
<line x1="181.6" y1="406.7" x2="181.6" y2="410.5" stroke="#0b5e0b" stroke-width="1.0"/>
<line x1="67.50" y1="433.10" x2="78.50" y2="433.10" stroke="#35f000" stroke-width="2.0"/>
<line x1="73.00" y1="431.00" x2="73.00" y2="435.20" stroke="#35f000" stroke-width="1.1"/>
<line x1="67.50" y1="446.90" x2="78.50" y2="446.90" stroke="#0b5e0b" stroke-width="2.0"/>
<line x1="73.00" y1="444.80" x2="73.00" y2="449.00" stroke="#0b5e0b" stroke-width="1.1"/>
<text x="82.47" y="436.10" font-size="10.31" textLength="5.86" lengthAdjust="spacingAndGlyphs" stroke="#000" stroke-width="0.15">≤</text>
<text x="88.38" y="435.90" font-size="10.9" textLength="38.94" lengthAdjust="spacingAndGlyphs" stroke="#000" stroke-width="0.15">MEDIAN</text>
<text x="81.54" y="450.82" font-size="13.59" textLength="7.81" lengthAdjust="spacingAndGlyphs" stroke="#000" stroke-width="0.15">&gt;</text>
<text x="89.08" y="450.20" font-size="10.9" textLength="38.83" lengthAdjust="spacingAndGlyphs" stroke="#000" stroke-width="0.15">MEDIAN</text>
<text x="59.66" y="503.90" font-size="8.8" textLength="58.42" lengthAdjust="spacingAndGlyphs" stroke="#000" stroke-width="0.1">Number at risk</text>
<text x="8.65" y="518.25" font-size="9.82" textLength="5.41" lengthAdjust="spacingAndGlyphs" fill="#33e611" stroke="#33e611" stroke-width="0.1">≤</text>
<text x="14.05" y="517.75" font-size="9.6" textLength="35.49" lengthAdjust="spacingAndGlyphs" fill="#33e611" stroke="#33e611" stroke-width="0.1">MEDIAN</text>
<text x="7.88" y="532.44" font-size="13.19" textLength="7.33" lengthAdjust="spacingAndGlyphs" fill="#0b610b" stroke="#0b610b" stroke-width="0.1">&gt;</text>
<text x="15.07" y="531.35" font-size="9.6" textLength="34.45" lengthAdjust="spacingAndGlyphs" fill="#0b610b" stroke="#0b610b" stroke-width="0.1">MEDIAN</text>
<path d="M62.17 517.50 L62.17 511.94 L60.65 512.96 L60.65 512.20 L62.24 511.17 L63.04 511.17 L63.04 517.50 Z" fill="#000" stroke="#000" stroke-width="0.2"/>
<text x="59.71" y="517.50" font-size="9.2" textLength="16.33" lengthAdjust="spacingAndGlyphs" stroke="#000" stroke-width="0.2"> 02</text>
<text x="90.24" y="517.50" font-size="9.2" textLength="11.15" lengthAdjust="spacingAndGlyphs" stroke="#000" stroke-width="0.2">78</text>
<text x="117.89" y="517.50" font-size="9.2" textLength="11.10" lengthAdjust="spacingAndGlyphs" stroke="#000" stroke-width="0.2">60</text>
<text x="146.37" y="517.50" font-size="9.2" textLength="10.92" lengthAdjust="spacingAndGlyphs" stroke="#000" stroke-width="0.2">42</text>
<path d="M176.33 517.50 L176.33 511.94 L174.70 512.96 L174.70 512.20 L176.41 511.17 L177.26 511.17 L177.26 517.50 Z" fill="#000" stroke="#000" stroke-width="0.2"/>
<text x="173.69" y="517.50" font-size="9.2" textLength="11.66" lengthAdjust="spacingAndGlyphs" stroke="#000" stroke-width="0.2"> 8</text>
<text x="204.01" y="517.50" font-size="9.2" textLength="5.40" lengthAdjust="spacingAndGlyphs" stroke="#000" stroke-width="0.2">5</text>
<text x="231.42" y="517.50" font-size="9.2" textLength="5.35" lengthAdjust="spacingAndGlyphs" stroke="#000" stroke-width="0.2">0</text>
<path d="M62.17 530.90 L62.17 525.34 L60.65 526.36 L60.65 525.60 L62.24 524.57 L63.04 524.57 L63.04 530.90 Z" fill="#000" stroke="#000" stroke-width="0.2"/>
<text x="59.71" y="530.90" font-size="9.2" textLength="16.33" lengthAdjust="spacingAndGlyphs" stroke="#000" stroke-width="0.2"> 02</text>
<text x="90.24" y="530.90" font-size="9.2" textLength="11.13" lengthAdjust="spacingAndGlyphs" stroke="#000" stroke-width="0.2">65</text>
<text x="118.18" y="530.90" font-size="9.2" textLength="10.70" lengthAdjust="spacingAndGlyphs" stroke="#000" stroke-width="0.2">44</text>
<text x="146.10" y="530.90" font-size="9.2" textLength="11.12" lengthAdjust="spacingAndGlyphs" stroke="#000" stroke-width="0.2">25</text>
<path d="M176.91 530.90 L176.91 525.34 L175.40 526.36 L175.40 525.60 L176.99 524.57 L177.78 524.57 L177.78 530.90 Z" fill="#000" stroke="#000" stroke-width="0.2"/>
<path d="M182.34 530.90 L182.34 525.34 L180.82 526.36 L180.82 525.60 L182.41 524.57 L183.20 524.57 L183.20 530.90 Z" fill="#000" stroke="#000" stroke-width="0.2"/>
<text x="174.46" y="530.90" font-size="9.2" textLength="10.85" lengthAdjust="spacingAndGlyphs" stroke="#000" stroke-width="0.2">  </text>
<path d="M206.34 530.90 L206.34 525.34 L204.30 526.36 L204.30 525.60 L206.44 524.57 L207.50 524.57 L207.50 530.90 Z" fill="#000" stroke="#000" stroke-width="0.2"/>
<text x="203.04" y="530.90" font-size="9.2" textLength="7.30" lengthAdjust="spacingAndGlyphs" stroke="#000" stroke-width="0.2"> </text>
<text x="231.42" y="530.90" font-size="9.2" textLength="5.35" lengthAdjust="spacingAndGlyphs" stroke="#000" stroke-width="0.2">0</text>
<text x="283.67" y="294.20" font-size="15.8" font-weight="bold" textLength="12.25" lengthAdjust="spacingAndGlyphs" stroke="#000" stroke-width="0.35">D</text>
<text x="329.07" y="290.55" font-size="9.1" font-weight="bold" textLength="40.96" lengthAdjust="spacingAndGlyphs" stroke="#000" stroke-width="0.25">RNA-Seq</text>
<text x="329.07" y="301.35" font-size="9.1" font-weight="bold" textLength="22.24" lengthAdjust="spacingAndGlyphs" stroke="#000" stroke-width="0.25">ABC,</text>
<text x="353.93" y="301.35" font-size="9.1" font-weight="bold" font-style="italic" textLength="39.32" lengthAdjust="spacingAndGlyphs" stroke="#000" stroke-width="0.25">FCGR2B</text>
<text x="395.72" y="301.35" font-size="9.1" font-weight="bold" textLength="102.45" lengthAdjust="spacingAndGlyphs" stroke="#000" stroke-width="0.25">(categorical, stratified)</text>
<text x="329.58" y="312.45" font-size="9.1" font-weight="bold" textLength="27.26" lengthAdjust="spacingAndGlyphs" stroke="#000" stroke-width="0.25">Arthur</text>
<line x1="329.05" y1="319.80" x2="329.05" y2="458.20" stroke="#000" stroke-width="1.55"/>
<line x1="328.45" y1="457.60" x2="511.10" y2="457.60" stroke="#000" stroke-width="1.6"/>
<line x1="324.50" y1="325.80" x2="329.05" y2="325.80" stroke="#000" stroke-width="1.4"/>
<path d="M301.35 328.60 L301.35 322.44 L299.60 323.57 L299.60 322.72 L301.43 321.58 L302.34 321.58 L302.34 328.60 Z" fill="#000" stroke="#000" stroke-width="0.2"/>
<text x="298.52" y="328.60" font-size="10.2" textLength="21.92" lengthAdjust="spacingAndGlyphs" stroke="#000" stroke-width="0.2"> .00</text>
<line x1="324.50" y1="357.20" x2="329.05" y2="357.20" stroke="#000" stroke-width="1.4"/>
<text x="299.17" y="360.00" font-size="10.2" textLength="21.29" lengthAdjust="spacingAndGlyphs" stroke="#000" stroke-width="0.2">0.75</text>
<line x1="324.50" y1="388.60" x2="329.05" y2="388.60" stroke="#000" stroke-width="1.4"/>
<text x="299.17" y="391.40" font-size="10.2" textLength="21.25" lengthAdjust="spacingAndGlyphs" stroke="#000" stroke-width="0.2">0.50</text>
<line x1="324.50" y1="420.00" x2="329.05" y2="420.00" stroke="#000" stroke-width="1.4"/>
<text x="299.17" y="422.80" font-size="10.2" textLength="21.29" lengthAdjust="spacingAndGlyphs" stroke="#000" stroke-width="0.2">0.25</text>
<line x1="324.50" y1="451.40" x2="329.05" y2="451.40" stroke="#000" stroke-width="1.4"/>
<text x="299.17" y="454.20" font-size="10.2" textLength="21.25" lengthAdjust="spacingAndGlyphs" stroke="#000" stroke-width="0.2">0.00</text>
<line x1="337.40" y1="457.60" x2="337.40" y2="462.30" stroke="#000" stroke-width="1.4"/>
<text x="334.24" y="473.30" font-size="10.8" textLength="6.52" lengthAdjust="spacingAndGlyphs" stroke="#000" stroke-width="0.2">0</text>
<line x1="365.25" y1="457.60" x2="365.25" y2="462.30" stroke="#000" stroke-width="1.4"/>
<text x="362.10" y="473.30" font-size="10.8" textLength="6.57" lengthAdjust="spacingAndGlyphs" stroke="#000" stroke-width="0.2">3</text>
<line x1="393.10" y1="457.60" x2="393.10" y2="462.30" stroke="#000" stroke-width="1.4"/>
<text x="389.78" y="473.30" font-size="10.8" textLength="6.75" lengthAdjust="spacingAndGlyphs" stroke="#000" stroke-width="0.2">6</text>
<line x1="420.95" y1="457.60" x2="420.95" y2="462.30" stroke="#000" stroke-width="1.4"/>
<text x="417.68" y="473.30" font-size="10.8" textLength="6.74" lengthAdjust="spacingAndGlyphs" stroke="#000" stroke-width="0.2">9</text>
<line x1="448.80" y1="457.60" x2="448.80" y2="462.30" stroke="#000" stroke-width="1.4"/>
<path d="M445.50 473.30 L445.50 466.78 L443.60 467.97 L443.60 467.08 L445.59 465.87 L446.58 465.87 L446.58 473.30 Z" fill="#000" stroke="#000" stroke-width="0.2"/>
<text x="442.42" y="473.30" font-size="10.8" textLength="13.59" lengthAdjust="spacingAndGlyphs" stroke="#000" stroke-width="0.2"> 2</text>
<line x1="476.65" y1="457.60" x2="476.65" y2="462.30" stroke="#000" stroke-width="1.4"/>
<path d="M473.33 473.30 L473.33 466.78 L471.45 467.97 L471.45 467.08 L473.42 465.87 L474.40 465.87 L474.40 473.30 Z" fill="#000" stroke="#000" stroke-width="0.2"/>
<text x="470.28" y="473.30" font-size="10.8" textLength="13.47" lengthAdjust="spacingAndGlyphs" stroke="#000" stroke-width="0.2"> 5</text>
<line x1="504.50" y1="457.60" x2="504.50" y2="462.30" stroke="#000" stroke-width="1.4"/>
<path d="M501.18 473.30 L501.18 466.78 L499.30 467.97 L499.30 467.08 L501.27 465.87 L502.26 465.87 L502.26 473.30 Z" fill="#000" stroke="#000" stroke-width="0.2"/>
<text x="498.13" y="473.30" font-size="10.8" textLength="13.49" lengthAdjust="spacingAndGlyphs" stroke="#000" stroke-width="0.2"> 8</text>
<text x="396.75" y="488.60" font-size="12.4" textLength="15.41" lengthAdjust="spacingAndGlyphs" stroke="#000" stroke-width="0.35">PFS</text>
<text x="415.35" y="488.60" font-size="12.4" textLength="27.50" lengthAdjust="spacingAndGlyphs" stroke="#000" stroke-width="0.35">(years)</text>
<text x="291.70" y="423.59" font-size="12.4" textLength="30.77" lengthAdjust="spacingAndGlyphs" stroke="#000" stroke-width="0.35" transform="rotate(-90 291.70 423.59)">Survival</text>
<text x="291.70" y="390.48" font-size="12.4" textLength="41.20" lengthAdjust="spacingAndGlyphs" stroke="#000" stroke-width="0.35" transform="rotate(-90 291.70 390.48)">probability</text>
<path d="M367.27 338.20 L367.27 332.40 L365.80 333.47 L365.80 332.67 L367.34 331.60 L368.11 331.60 L368.11 338.20 Z" fill="#000" stroke="#000" stroke-width="0.15"/>
<text x="345.92" y="338.20" font-size="9.6" textLength="126.49" lengthAdjust="spacingAndGlyphs" stroke="#000" stroke-width="0.15">HR,  .42; 95% CI, 0.90–2.22; </text>
<text x="472.11" y="338.20" font-size="9.6" font-style="italic" textLength="7.46" lengthAdjust="spacingAndGlyphs" stroke="#000" stroke-width="0.15">P</text>
<line x1="481.23" y1="334.65" x2="487.03" y2="334.65" stroke="#555" stroke-width="1.1"/>
<line x1="481.23" y1="336.95" x2="487.03" y2="336.95" stroke="#555" stroke-width="1.1"/>
<path d="M494.56 338.20 L494.56 332.40 L493.08 333.47 L493.08 332.67 L494.62 331.60 L495.39 331.60 L495.39 338.20 Z" fill="#000" stroke="#000" stroke-width="0.15"/>
<text x="486.90" y="338.20" font-size="9.6" textLength="15.81" lengthAdjust="spacingAndGlyphs" stroke="#000" stroke-width="0.15"> . 3</text>
<path d="M338.4 325.4 L340.4 330.9 L342.9 339.8 L344.4 349.7 L345.4 356.6 L346.9 361.6 L348.3 363.6 L348.8 366.5 L355.8 367.5 L357.8 369.5 L360.7 370.5 L362.7 373.5 L368.1 373.5 L368.6 378.2 L369.6 382.8 L378.8 382.8 L380.4 385.5 L389.6 386.6 L390.4 387.4 L403.5 387.4 L404.2 389.7 L415.8 389.7 L415.8 396.3 L432.7 396.3 L433.5 399.7 L435.0 404.5 L460.0 404.5 L460.0 411.9 L467.7 411.9 L467.7 420.0 L483.1 420.0" fill="none" stroke="#35f000" stroke-width="2.3" stroke-linejoin="round" stroke-linecap="round"/>
<line x1="469.6" y1="417.7" x2="469.6" y2="422.3" stroke="#35f000" stroke-width="1.1"/>
<line x1="480.2" y1="417.7" x2="480.2" y2="422.3" stroke="#35f000" stroke-width="1.1"/>
<line x1="483.1" y1="417.7" x2="483.1" y2="422.3" stroke="#35f000" stroke-width="1.1"/>
<line x1="439.8" y1="402.2" x2="439.8" y2="406.8" stroke="#35f000" stroke-width="1.1"/>
<line x1="450.4" y1="402.2" x2="450.4" y2="406.8" stroke="#35f000" stroke-width="1.1"/>
<line x1="454.2" y1="402.2" x2="454.2" y2="406.8" stroke="#35f000" stroke-width="1.1"/>
<line x1="347.9" y1="361.1" x2="347.9" y2="364.9" stroke="#35f000" stroke-width="1.0"/>
<line x1="354.3" y1="365.4" x2="354.3" y2="369.2" stroke="#35f000" stroke-width="1.0"/>
<line x1="361.3" y1="369.4" x2="361.3" y2="373.2" stroke="#35f000" stroke-width="1.0"/>
<line x1="366.1" y1="371.6" x2="366.1" y2="375.4" stroke="#35f000" stroke-width="1.0"/>
<line x1="371.1" y1="380.9" x2="371.1" y2="384.7" stroke="#35f000" stroke-width="1.0"/>
<line x1="374.4" y1="380.9" x2="374.4" y2="384.7" stroke="#35f000" stroke-width="1.0"/>
<line x1="377.8" y1="380.9" x2="377.8" y2="384.7" stroke="#35f000" stroke-width="1.0"/>
<line x1="382.2" y1="383.8" x2="382.2" y2="387.6" stroke="#35f000" stroke-width="1.0"/>
<line x1="386.2" y1="384.3" x2="386.2" y2="388.1" stroke="#35f000" stroke-width="1.0"/>
<line x1="392.6" y1="385.5" x2="392.6" y2="389.3" stroke="#35f000" stroke-width="1.0"/>
<line x1="396.2" y1="385.5" x2="396.2" y2="389.3" stroke="#35f000" stroke-width="1.0"/>
<line x1="399.3" y1="385.5" x2="399.3" y2="389.3" stroke="#35f000" stroke-width="1.0"/>
<line x1="406.1" y1="387.8" x2="406.1" y2="391.6" stroke="#35f000" stroke-width="1.0"/>
<line x1="411.2" y1="387.8" x2="411.2" y2="391.6" stroke="#35f000" stroke-width="1.0"/>
<line x1="414.8" y1="387.8" x2="414.8" y2="391.6" stroke="#35f000" stroke-width="1.0"/>
<line x1="420.0" y1="394.4" x2="420.0" y2="398.2" stroke="#35f000" stroke-width="1.0"/>
<line x1="423.1" y1="394.4" x2="423.1" y2="398.2" stroke="#35f000" stroke-width="1.0"/>
<line x1="428.2" y1="394.4" x2="428.2" y2="398.2" stroke="#35f000" stroke-width="1.0"/>
<line x1="435.1" y1="402.6" x2="435.1" y2="406.4" stroke="#35f000" stroke-width="1.0"/>
<line x1="441.6" y1="402.6" x2="441.6" y2="406.4" stroke="#35f000" stroke-width="1.0"/>
<line x1="447.3" y1="402.6" x2="447.3" y2="406.4" stroke="#35f000" stroke-width="1.0"/>
<line x1="451.4" y1="402.6" x2="451.4" y2="406.4" stroke="#35f000" stroke-width="1.0"/>
<line x1="455.9" y1="402.6" x2="455.9" y2="406.4" stroke="#35f000" stroke-width="1.0"/>
<line x1="459.5" y1="402.6" x2="459.5" y2="406.4" stroke="#35f000" stroke-width="1.0"/>
<line x1="465.6" y1="410.0" x2="465.6" y2="413.8" stroke="#35f000" stroke-width="1.0"/>
<path d="M338.4 325.4 L339.9 329.9 L341.4 335.8 L342.4 342.8 L342.9 349.7 L343.4 357.6 L344.4 364.6 L345.4 372.5 L346.4 379.4 L347.9 384.4 L349.8 386.3 L352.8 388.3 L355.8 389.3 L358.7 392.3 L360.7 392.8 L375.0 392.8 L375.8 395.8 L384.2 395.8 L385.0 397.8 L395.0 397.8 L395.8 400.5 L399.6 403.5 L405.0 404.2 L427.3 404.2 L428.3 408.5 L429.2 417.1 L438.8 417.1 L438.8 423.8 L475.4 423.8 L475.4 437.3 L478.3 437.3" fill="none" stroke="#0b5e0b" stroke-width="2.3" stroke-linejoin="round" stroke-linecap="round"/>
<line x1="457.1" y1="421.5" x2="457.1" y2="426.1" stroke="#0b5e0b" stroke-width="1.1"/>
<line x1="467.7" y1="421.5" x2="467.7" y2="426.1" stroke="#0b5e0b" stroke-width="1.1"/>
<line x1="477.3" y1="435.0" x2="477.3" y2="439.6" stroke="#0b5e0b" stroke-width="1.1"/>
<line x1="411.9" y1="401.9" x2="411.9" y2="406.5" stroke="#0b5e0b" stroke-width="1.1"/>
<line x1="416.7" y1="401.9" x2="416.7" y2="406.5" stroke="#0b5e0b" stroke-width="1.1"/>
<line x1="418.7" y1="401.9" x2="418.7" y2="406.5" stroke="#0b5e0b" stroke-width="1.1"/>
<line x1="366.0" y1="390.5" x2="366.0" y2="395.1" stroke="#0b5e0b" stroke-width="1.1"/>
<line x1="370.0" y1="390.5" x2="370.0" y2="395.1" stroke="#0b5e0b" stroke-width="1.1"/>
<line x1="350.5" y1="384.9" x2="350.5" y2="388.7" stroke="#0b5e0b" stroke-width="1.0"/>
<line x1="354.8" y1="387.1" x2="354.8" y2="390.9" stroke="#0b5e0b" stroke-width="1.0"/>
<line x1="358.7" y1="390.4" x2="358.7" y2="394.2" stroke="#0b5e0b" stroke-width="1.0"/>
<line x1="365.0" y1="390.9" x2="365.0" y2="394.7" stroke="#0b5e0b" stroke-width="1.0"/>
<line x1="371.9" y1="390.9" x2="371.9" y2="394.7" stroke="#0b5e0b" stroke-width="1.0"/>
<line x1="378.3" y1="393.9" x2="378.3" y2="397.7" stroke="#0b5e0b" stroke-width="1.0"/>
<line x1="384.5" y1="394.8" x2="384.5" y2="398.6" stroke="#0b5e0b" stroke-width="1.0"/>
<line x1="390.8" y1="395.9" x2="390.8" y2="399.7" stroke="#0b5e0b" stroke-width="1.0"/>
<line x1="396.8" y1="399.4" x2="396.8" y2="403.2" stroke="#0b5e0b" stroke-width="1.0"/>
<line x1="400.7" y1="401.7" x2="400.7" y2="405.5" stroke="#0b5e0b" stroke-width="1.0"/>
<line x1="405.8" y1="402.3" x2="405.8" y2="406.1" stroke="#0b5e0b" stroke-width="1.0"/>
<line x1="410.2" y1="402.3" x2="410.2" y2="406.1" stroke="#0b5e0b" stroke-width="1.0"/>
<line x1="413.3" y1="402.3" x2="413.3" y2="406.1" stroke="#0b5e0b" stroke-width="1.0"/>
<line x1="416.4" y1="402.3" x2="416.4" y2="406.1" stroke="#0b5e0b" stroke-width="1.0"/>
<line x1="420.5" y1="402.3" x2="420.5" y2="406.1" stroke="#0b5e0b" stroke-width="1.0"/>
<line x1="424.6" y1="402.3" x2="424.6" y2="406.1" stroke="#0b5e0b" stroke-width="1.0"/>
<line x1="430.3" y1="415.2" x2="430.3" y2="419.0" stroke="#0b5e0b" stroke-width="1.0"/>
<line x1="437.2" y1="415.2" x2="437.2" y2="419.0" stroke="#0b5e0b" stroke-width="1.0"/>
<line x1="441.9" y1="421.9" x2="441.9" y2="425.7" stroke="#0b5e0b" stroke-width="1.0"/>
<line x1="448.7" y1="421.9" x2="448.7" y2="425.7" stroke="#0b5e0b" stroke-width="1.0"/>
<line x1="455.6" y1="421.9" x2="455.6" y2="425.7" stroke="#0b5e0b" stroke-width="1.0"/>
<line x1="462.5" y1="421.9" x2="462.5" y2="425.7" stroke="#0b5e0b" stroke-width="1.0"/>
<line x1="466.9" y1="421.9" x2="466.9" y2="425.7" stroke="#0b5e0b" stroke-width="1.0"/>
<line x1="470.8" y1="421.9" x2="470.8" y2="425.7" stroke="#0b5e0b" stroke-width="1.0"/>
<line x1="340.40" y1="433.10" x2="351.30" y2="433.10" stroke="#35f000" stroke-width="2.0"/>
<line x1="345.85" y1="431.00" x2="345.85" y2="435.20" stroke="#35f000" stroke-width="1.1"/>
<line x1="340.40" y1="446.90" x2="351.30" y2="446.90" stroke="#0b5e0b" stroke-width="2.0"/>
<line x1="345.85" y1="444.80" x2="345.85" y2="449.00" stroke="#0b5e0b" stroke-width="1.1"/>
<text x="355.47" y="436.00" font-size="10.31" textLength="5.86" lengthAdjust="spacingAndGlyphs" stroke="#000" stroke-width="0.15">≤</text>
<text x="361.39" y="435.80" font-size="10.9" textLength="38.42" lengthAdjust="spacingAndGlyphs" stroke="#000" stroke-width="0.15">MEDIAN</text>
<text x="354.54" y="450.72" font-size="13.59" textLength="7.81" lengthAdjust="spacingAndGlyphs" stroke="#000" stroke-width="0.15">&gt;</text>
<text x="362.09" y="450.10" font-size="10.9" textLength="38.31" lengthAdjust="spacingAndGlyphs" stroke="#000" stroke-width="0.15">MEDIAN</text>
<text x="333.16" y="503.80" font-size="8.8" textLength="58.32" lengthAdjust="spacingAndGlyphs" stroke="#000" stroke-width="0.1">Number at risk</text>
<text x="279.65" y="518.05" font-size="9.82" textLength="5.41" lengthAdjust="spacingAndGlyphs" fill="#33e611" stroke="#33e611" stroke-width="0.1">≤</text>
<text x="285.04" y="517.55" font-size="9.6" textLength="35.91" lengthAdjust="spacingAndGlyphs" fill="#33e611" stroke="#33e611" stroke-width="0.1">MEDIAN</text>
<text x="279.18" y="532.34" font-size="13.19" textLength="7.33" lengthAdjust="spacingAndGlyphs" fill="#0b610b" stroke="#0b610b" stroke-width="0.1">&gt;</text>
<text x="286.37" y="531.25" font-size="9.6" textLength="34.76" lengthAdjust="spacingAndGlyphs" fill="#0b610b" stroke="#0b610b" stroke-width="0.1">MEDIAN</text>
<text x="333.39" y="517.00" font-size="9.2" textLength="11.10" lengthAdjust="spacingAndGlyphs" stroke="#000" stroke-width="0.2">60</text>
<text x="361.22" y="517.00" font-size="9.2" textLength="10.99" lengthAdjust="spacingAndGlyphs" stroke="#000" stroke-width="0.2">35</text>
<text x="388.80" y="517.00" font-size="9.2" textLength="11.12" lengthAdjust="spacingAndGlyphs" stroke="#000" stroke-width="0.2">25</text>
<path d="M418.84 517.00 L418.84 511.44 L417.20 512.46 L417.20 511.70 L418.92 510.67 L419.77 510.67 L419.77 517.00 Z" fill="#000" stroke="#000" stroke-width="0.2"/>
<text x="416.18" y="517.00" font-size="9.2" textLength="11.75" lengthAdjust="spacingAndGlyphs" stroke="#000" stroke-width="0.2"> 7</text>
<text x="446.73" y="517.00" font-size="9.2" textLength="5.54" lengthAdjust="spacingAndGlyphs" stroke="#000" stroke-width="0.2">9</text>
<text x="475.13" y="517.00" font-size="9.2" textLength="5.40" lengthAdjust="spacingAndGlyphs" stroke="#000" stroke-width="0.2">3</text>
<text x="333.39" y="530.80" font-size="9.2" textLength="11.10" lengthAdjust="spacingAndGlyphs" stroke="#000" stroke-width="0.2">60</text>
<text x="361.10" y="530.80" font-size="9.2" textLength="11.12" lengthAdjust="spacingAndGlyphs" stroke="#000" stroke-width="0.2">25</text>
<path d="M391.53 530.80 L391.53 525.24 L389.90 526.26 L389.90 525.50 L391.61 524.47 L392.47 524.47 L392.47 530.80 Z" fill="#000" stroke="#000" stroke-width="0.2"/>
<text x="388.89" y="530.80" font-size="9.2" textLength="11.71" lengthAdjust="spacingAndGlyphs" stroke="#000" stroke-width="0.2"> 9</text>
<path d="M418.82 530.80 L418.82 525.24 L417.20 526.26 L417.20 525.50 L418.90 524.47 L419.74 524.47 L419.74 530.80 Z" fill="#000" stroke="#000" stroke-width="0.2"/>
<text x="416.20" y="530.80" font-size="9.2" textLength="11.61" lengthAdjust="spacingAndGlyphs" stroke="#000" stroke-width="0.2"> 0</text>
<text x="446.81" y="530.80" font-size="9.2" textLength="5.40" lengthAdjust="spacingAndGlyphs" stroke="#000" stroke-width="0.2">5</text>
<path d="M477.94 530.80 L477.94 525.24 L475.90 526.26 L475.90 525.50 L478.04 524.47 L479.10 524.47 L479.10 530.80 Z" fill="#000" stroke="#000" stroke-width="0.2"/>
<text x="474.64" y="530.80" font-size="9.2" textLength="7.30" lengthAdjust="spacingAndGlyphs" stroke="#000" stroke-width="0.2"> </text>
<text x="8.90" y="562.30" font-size="15.8" font-weight="bold" textLength="10.94" lengthAdjust="spacingAndGlyphs" stroke="#000" stroke-width="0.35">E</text>
<text x="56.77" y="558.25" font-size="9.1" font-weight="bold" textLength="40.66" lengthAdjust="spacingAndGlyphs" stroke="#000" stroke-width="0.25">RNA-Seq</text>
<text x="56.63" y="569.35" font-size="9.1" font-weight="bold" textLength="22.78" lengthAdjust="spacingAndGlyphs" stroke="#000" stroke-width="0.25">GCB,</text>
<text x="81.83" y="569.35" font-size="9.1" font-weight="bold" font-style="italic" textLength="38.82" lengthAdjust="spacingAndGlyphs" stroke="#000" stroke-width="0.25">FCGR2B</text>
<text x="123.83" y="569.35" font-size="9.1" font-weight="bold" textLength="101.44" lengthAdjust="spacingAndGlyphs" stroke="#000" stroke-width="0.25">(categorical, stratified)</text>
<text x="57.13" y="580.25" font-size="9.1" font-weight="bold" textLength="35.70" lengthAdjust="spacingAndGlyphs" stroke="#000" stroke-width="0.25">Schmitz</text>
<line x1="56.55" y1="587.80" x2="56.55" y2="726.20" stroke="#000" stroke-width="1.55"/>
<line x1="55.95" y1="725.60" x2="238.60" y2="725.60" stroke="#000" stroke-width="1.6"/>
<line x1="52.00" y1="593.80" x2="56.55" y2="593.80" stroke="#000" stroke-width="1.4"/>
<path d="M28.85 596.60 L28.85 590.44 L27.10 591.57 L27.10 590.72 L28.93 589.58 L29.84 589.58 L29.84 596.60 Z" fill="#000" stroke="#000" stroke-width="0.2"/>
<text x="26.02" y="596.60" font-size="10.2" textLength="21.92" lengthAdjust="spacingAndGlyphs" stroke="#000" stroke-width="0.2"> .00</text>
<line x1="52.00" y1="625.20" x2="56.55" y2="625.20" stroke="#000" stroke-width="1.4"/>
<text x="26.67" y="628.00" font-size="10.2" textLength="21.29" lengthAdjust="spacingAndGlyphs" stroke="#000" stroke-width="0.2">0.75</text>
<line x1="52.00" y1="656.60" x2="56.55" y2="656.60" stroke="#000" stroke-width="1.4"/>
<text x="26.67" y="659.40" font-size="10.2" textLength="21.25" lengthAdjust="spacingAndGlyphs" stroke="#000" stroke-width="0.2">0.50</text>
<line x1="52.00" y1="688.00" x2="56.55" y2="688.00" stroke="#000" stroke-width="1.4"/>
<text x="26.67" y="690.80" font-size="10.2" textLength="21.29" lengthAdjust="spacingAndGlyphs" stroke="#000" stroke-width="0.2">0.25</text>
<line x1="52.00" y1="719.40" x2="56.55" y2="719.40" stroke="#000" stroke-width="1.4"/>
<text x="26.67" y="722.20" font-size="10.2" textLength="21.25" lengthAdjust="spacingAndGlyphs" stroke="#000" stroke-width="0.2">0.00</text>
<line x1="64.90" y1="725.60" x2="64.90" y2="730.30" stroke="#000" stroke-width="1.4"/>
<text x="61.74" y="741.30" font-size="10.8" textLength="6.52" lengthAdjust="spacingAndGlyphs" stroke="#000" stroke-width="0.2">0</text>
<line x1="92.75" y1="725.60" x2="92.75" y2="730.30" stroke="#000" stroke-width="1.4"/>
<text x="89.60" y="741.30" font-size="10.8" textLength="6.57" lengthAdjust="spacingAndGlyphs" stroke="#000" stroke-width="0.2">3</text>
<line x1="120.60" y1="725.60" x2="120.60" y2="730.30" stroke="#000" stroke-width="1.4"/>
<text x="117.28" y="741.30" font-size="10.8" textLength="6.75" lengthAdjust="spacingAndGlyphs" stroke="#000" stroke-width="0.2">6</text>
<line x1="148.45" y1="725.60" x2="148.45" y2="730.30" stroke="#000" stroke-width="1.4"/>
<text x="145.18" y="741.30" font-size="10.8" textLength="6.74" lengthAdjust="spacingAndGlyphs" stroke="#000" stroke-width="0.2">9</text>
<line x1="176.30" y1="725.60" x2="176.30" y2="730.30" stroke="#000" stroke-width="1.4"/>
<path d="M173.00 741.30 L173.00 734.78 L171.10 735.97 L171.10 735.08 L173.09 733.87 L174.08 733.87 L174.08 741.30 Z" fill="#000" stroke="#000" stroke-width="0.2"/>
<text x="169.92" y="741.30" font-size="10.8" textLength="13.59" lengthAdjust="spacingAndGlyphs" stroke="#000" stroke-width="0.2"> 2</text>
<line x1="204.15" y1="725.60" x2="204.15" y2="730.30" stroke="#000" stroke-width="1.4"/>
<path d="M200.83 741.30 L200.83 734.78 L198.95 735.97 L198.95 735.08 L200.92 733.87 L201.90 733.87 L201.90 741.30 Z" fill="#000" stroke="#000" stroke-width="0.2"/>
<text x="197.78" y="741.30" font-size="10.8" textLength="13.47" lengthAdjust="spacingAndGlyphs" stroke="#000" stroke-width="0.2"> 5</text>
<line x1="232.00" y1="725.60" x2="232.00" y2="730.30" stroke="#000" stroke-width="1.4"/>
<path d="M228.68 741.30 L228.68 734.78 L226.80 735.97 L226.80 735.08 L228.77 733.87 L229.76 733.87 L229.76 741.30 Z" fill="#000" stroke="#000" stroke-width="0.2"/>
<text x="225.63" y="741.30" font-size="10.8" textLength="13.49" lengthAdjust="spacingAndGlyphs" stroke="#000" stroke-width="0.2"> 8</text>
<text x="124.25" y="758.20" font-size="12.4" textLength="15.41" lengthAdjust="spacingAndGlyphs" stroke="#000" stroke-width="0.35">PFS</text>
<text x="142.85" y="758.20" font-size="12.4" textLength="27.50" lengthAdjust="spacingAndGlyphs" stroke="#000" stroke-width="0.35">(years)</text>
<text x="19.20" y="691.59" font-size="12.4" textLength="30.77" lengthAdjust="spacingAndGlyphs" stroke="#000" stroke-width="0.35" transform="rotate(-90 19.20 691.59)">Survival</text>
<text x="19.20" y="658.48" font-size="12.4" textLength="41.20" lengthAdjust="spacingAndGlyphs" stroke="#000" stroke-width="0.35" transform="rotate(-90 19.20 658.48)">probability</text>
<path d="M99.65 595.80 L99.65 590.00 L98.18 591.07 L98.18 590.27 L99.72 589.20 L100.49 589.20 L100.49 595.80 Z" fill="#000" stroke="#000" stroke-width="0.15"/>
<text x="78.32" y="595.80" font-size="9.6" textLength="126.40" lengthAdjust="spacingAndGlyphs" stroke="#000" stroke-width="0.15">HR,  .28; 95% CI, 0.65–2.53; </text>
<text x="204.42" y="595.80" font-size="9.6" font-style="italic" textLength="7.46" lengthAdjust="spacingAndGlyphs" stroke="#000" stroke-width="0.15">P</text>
<line x1="213.54" y1="592.25" x2="219.34" y2="592.25" stroke="#555" stroke-width="1.1"/>
<line x1="213.54" y1="594.55" x2="219.34" y2="594.55" stroke="#555" stroke-width="1.1"/>
<text x="219.21" y="595.80" font-size="9.6" textLength="15.80" lengthAdjust="spacingAndGlyphs" stroke="#000" stroke-width="0.15"> .48</text>
<path d="M65.2 593.8 L66.3 598.4 L68.1 601.8 L71.0 605.3 L73.3 607.0 L74.4 609.9 L74.8 615.7 L77.3 616.8 L80.2 618.0 L81.3 621.5 L81.9 623.8 L86.5 624.9 L90.0 626.1 L92.3 627.8 L93.5 629.9 L126.0 629.9 L126.5 633.4 L157.1 633.4 L157.1 640.9 L162.9 640.9 L162.9 649.5 L217.9 649.5" fill="none" stroke="#44ccf4" stroke-width="2.3" stroke-linejoin="round" stroke-linecap="round"/>
<line x1="171.7" y1="647.2" x2="171.7" y2="651.8" stroke="#44ccf4" stroke-width="1.1"/>
<line x1="179.4" y1="647.2" x2="179.4" y2="651.8" stroke="#44ccf4" stroke-width="1.1"/>
<line x1="181.9" y1="647.2" x2="181.9" y2="651.8" stroke="#44ccf4" stroke-width="1.1"/>
<line x1="191.9" y1="647.2" x2="191.9" y2="651.8" stroke="#44ccf4" stroke-width="1.1"/>
<line x1="217.9" y1="647.2" x2="217.9" y2="651.8" stroke="#44ccf4" stroke-width="1.1"/>
<line x1="99.2" y1="627.6" x2="99.2" y2="632.2" stroke="#44ccf4" stroke-width="1.1"/>
<line x1="102.1" y1="627.6" x2="102.1" y2="632.2" stroke="#44ccf4" stroke-width="1.1"/>
<line x1="110.0" y1="627.6" x2="110.0" y2="632.2" stroke="#44ccf4" stroke-width="1.1"/>
<line x1="118.0" y1="627.6" x2="118.0" y2="632.2" stroke="#44ccf4" stroke-width="1.1"/>
<line x1="135.0" y1="631.1" x2="135.0" y2="635.7" stroke="#44ccf4" stroke-width="1.1"/>
<line x1="145.0" y1="631.1" x2="145.0" y2="635.7" stroke="#44ccf4" stroke-width="1.1"/>
<line x1="152.0" y1="631.1" x2="152.0" y2="635.7" stroke="#44ccf4" stroke-width="1.1"/>
<line x1="75.0" y1="613.9" x2="75.0" y2="617.7" stroke="#44ccf4" stroke-width="1.0"/>
<line x1="78.8" y1="615.5" x2="78.8" y2="619.3" stroke="#44ccf4" stroke-width="1.0"/>
<line x1="84.3" y1="622.5" x2="84.3" y2="626.3" stroke="#44ccf4" stroke-width="1.0"/>
<line x1="90.9" y1="624.9" x2="90.9" y2="628.7" stroke="#44ccf4" stroke-width="1.0"/>
<line x1="97.3" y1="628.0" x2="97.3" y2="631.8" stroke="#44ccf4" stroke-width="1.0"/>
<line x1="102.2" y1="628.0" x2="102.2" y2="631.8" stroke="#44ccf4" stroke-width="1.0"/>
<line x1="107.8" y1="628.0" x2="107.8" y2="631.8" stroke="#44ccf4" stroke-width="1.0"/>
<line x1="114.0" y1="628.0" x2="114.0" y2="631.8" stroke="#44ccf4" stroke-width="1.0"/>
<line x1="117.3" y1="628.0" x2="117.3" y2="631.8" stroke="#44ccf4" stroke-width="1.0"/>
<line x1="123.0" y1="628.0" x2="123.0" y2="631.8" stroke="#44ccf4" stroke-width="1.0"/>
<line x1="129.6" y1="631.5" x2="129.6" y2="635.3" stroke="#44ccf4" stroke-width="1.0"/>
<line x1="135.7" y1="631.5" x2="135.7" y2="635.3" stroke="#44ccf4" stroke-width="1.0"/>
<line x1="141.7" y1="631.5" x2="141.7" y2="635.3" stroke="#44ccf4" stroke-width="1.0"/>
<line x1="146.7" y1="631.5" x2="146.7" y2="635.3" stroke="#44ccf4" stroke-width="1.0"/>
<line x1="150.4" y1="631.5" x2="150.4" y2="635.3" stroke="#44ccf4" stroke-width="1.0"/>
<line x1="156.5" y1="631.5" x2="156.5" y2="635.3" stroke="#44ccf4" stroke-width="1.0"/>
<line x1="160.9" y1="639.0" x2="160.9" y2="642.8" stroke="#44ccf4" stroke-width="1.0"/>
<path d="M65.2 593.8 L68.1 596.7 L70.4 599.5 L72.7 601.8 L75.0 604.2 L77.3 606.5 L80.2 607.0 L83.1 608.8 L86.5 611.1 L90.0 612.5 L106.2 612.5 L107.3 615.1 L113.1 615.1 L113.7 617.8 L121.3 617.8 L122.5 620.1 L127.7 621.3 L129.4 624.2 L137.5 624.7 L139.2 627.0 L142.1 628.2 L143.3 631.7 L143.6 636.8 L145.6 638.0 L147.3 639.2 L147.9 643.8 L162.3 643.8 L162.9 658.8 L180.4 658.8" fill="none" stroke="#1030a0" stroke-width="2.3" stroke-linejoin="round" stroke-linecap="round"/>
<line x1="172.7" y1="656.5" x2="172.7" y2="661.1" stroke="#1030a0" stroke-width="1.1"/>
<line x1="179.4" y1="656.5" x2="179.4" y2="661.1" stroke="#1030a0" stroke-width="1.1"/>
<line x1="99.2" y1="610.2" x2="99.2" y2="614.8" stroke="#1030a0" stroke-width="1.1"/>
<line x1="104.0" y1="610.2" x2="104.0" y2="614.8" stroke="#1030a0" stroke-width="1.1"/>
<line x1="152.0" y1="641.5" x2="152.0" y2="646.1" stroke="#1030a0" stroke-width="1.1"/>
<line x1="155.0" y1="641.5" x2="155.0" y2="646.1" stroke="#1030a0" stroke-width="1.1"/>
<line x1="158.0" y1="641.5" x2="158.0" y2="646.1" stroke="#1030a0" stroke-width="1.1"/>
<line x1="78.1" y1="604.7" x2="78.1" y2="608.5" stroke="#1030a0" stroke-width="1.0"/>
<line x1="82.7" y1="606.6" x2="82.7" y2="610.4" stroke="#1030a0" stroke-width="1.0"/>
<line x1="87.3" y1="609.5" x2="87.3" y2="613.3" stroke="#1030a0" stroke-width="1.0"/>
<line x1="94.1" y1="610.6" x2="94.1" y2="614.4" stroke="#1030a0" stroke-width="1.0"/>
<line x1="100.0" y1="610.6" x2="100.0" y2="614.4" stroke="#1030a0" stroke-width="1.0"/>
<line x1="103.6" y1="610.6" x2="103.6" y2="614.4" stroke="#1030a0" stroke-width="1.0"/>
<line x1="107.2" y1="612.8" x2="107.2" y2="616.6" stroke="#1030a0" stroke-width="1.0"/>
<line x1="110.8" y1="613.2" x2="110.8" y2="617.0" stroke="#1030a0" stroke-width="1.0"/>
<line x1="117.4" y1="615.9" x2="117.4" y2="619.7" stroke="#1030a0" stroke-width="1.0"/>
<line x1="123.6" y1="618.5" x2="123.6" y2="622.3" stroke="#1030a0" stroke-width="1.0"/>
<line x1="127.2" y1="619.3" x2="127.2" y2="623.1" stroke="#1030a0" stroke-width="1.0"/>
<line x1="133.5" y1="622.6" x2="133.5" y2="626.4" stroke="#1030a0" stroke-width="1.0"/>
<line x1="140.4" y1="625.6" x2="140.4" y2="629.4" stroke="#1030a0" stroke-width="1.0"/>
<line x1="146.0" y1="636.4" x2="146.0" y2="640.2" stroke="#1030a0" stroke-width="1.0"/>
<line x1="150.4" y1="641.9" x2="150.4" y2="645.7" stroke="#1030a0" stroke-width="1.0"/>
<line x1="155.6" y1="641.9" x2="155.6" y2="645.7" stroke="#1030a0" stroke-width="1.0"/>
<line x1="159.2" y1="641.9" x2="159.2" y2="645.7" stroke="#1030a0" stroke-width="1.0"/>
<line x1="67.50" y1="701.00" x2="79.00" y2="701.00" stroke="#1030a0" stroke-width="2.0"/>
<line x1="73.25" y1="698.90" x2="73.25" y2="703.10" stroke="#1030a0" stroke-width="1.1"/>
<line x1="67.50" y1="714.60" x2="79.00" y2="714.60" stroke="#44ccf4" stroke-width="2.0"/>
<line x1="73.25" y1="712.50" x2="73.25" y2="716.70" stroke="#44ccf4" stroke-width="1.1"/>
<text x="82.57" y="704.20" font-size="10.31" textLength="5.86" lengthAdjust="spacingAndGlyphs" stroke="#000" stroke-width="0.15">≤</text>
<text x="88.48" y="704.00" font-size="10.9" textLength="38.83" lengthAdjust="spacingAndGlyphs" stroke="#000" stroke-width="0.15">MEDIAN</text>
<text x="81.84" y="718.82" font-size="13.59" textLength="7.81" lengthAdjust="spacingAndGlyphs" stroke="#000" stroke-width="0.15">&gt;</text>
<text x="89.39" y="718.20" font-size="10.9" textLength="38.52" lengthAdjust="spacingAndGlyphs" stroke="#000" stroke-width="0.15">MEDIAN</text>
<text x="60.06" y="770.70" font-size="8.8" textLength="58.42" lengthAdjust="spacingAndGlyphs" stroke="#000" stroke-width="0.1">Number at risk</text>
<text x="8.65" y="785.15" font-size="9.82" textLength="5.41" lengthAdjust="spacingAndGlyphs" fill="#1535a5" stroke="#1535a5" stroke-width="0.1">≤</text>
<text x="14.05" y="784.65" font-size="9.6" textLength="35.49" lengthAdjust="spacingAndGlyphs" fill="#1535a5" stroke="#1535a5" stroke-width="0.1">MEDIAN</text>
<text x="7.88" y="799.04" font-size="13.19" textLength="7.33" lengthAdjust="spacingAndGlyphs" fill="#40ccf4" stroke="#40ccf4" stroke-width="0.1">&gt;</text>
<text x="15.07" y="797.95" font-size="9.6" textLength="34.45" lengthAdjust="spacingAndGlyphs" fill="#40ccf4" stroke="#40ccf4" stroke-width="0.1">MEDIAN</text>
<text x="60.50" y="784.20" font-size="9.2" textLength="11.10" lengthAdjust="spacingAndGlyphs" stroke="#000" stroke-width="0.2">57</text>
<text x="88.68" y="784.20" font-size="9.2" textLength="10.80" lengthAdjust="spacingAndGlyphs" stroke="#000" stroke-width="0.2">40</text>
<text x="116.12" y="784.20" font-size="9.2" textLength="10.99" lengthAdjust="spacingAndGlyphs" stroke="#000" stroke-width="0.2">35</text>
<path d="M146.33 784.20 L146.33 778.64 L144.70 779.66 L144.70 778.90 L146.41 777.87 L147.26 777.87 L147.26 784.20 Z" fill="#000" stroke="#000" stroke-width="0.2"/>
<text x="143.69" y="784.20" font-size="9.2" textLength="11.67" lengthAdjust="spacingAndGlyphs" stroke="#000" stroke-width="0.2"> 3</text>
<path d="M177.44 784.20 L177.44 778.64 L175.40 779.66 L175.40 778.90 L177.54 777.87 L178.60 777.87 L178.60 784.20 Z" fill="#000" stroke="#000" stroke-width="0.2"/>
<text x="174.14" y="784.20" font-size="9.2" textLength="7.30" lengthAdjust="spacingAndGlyphs" stroke="#000" stroke-width="0.2"> </text>
<text x="202.52" y="784.20" font-size="9.2" textLength="5.35" lengthAdjust="spacingAndGlyphs" stroke="#000" stroke-width="0.2">0</text>
<path d="M69.65 797.40 L69.65 791.84 L67.80 792.86 L67.80 792.10 L69.73 791.07 L70.70 791.07 L70.70 797.40 Z" fill="#000" stroke="#000" stroke-width="0.2"/>
<text x="60.02" y="797.40" font-size="9.2" textLength="13.25" lengthAdjust="spacingAndGlyphs" stroke="#000" stroke-width="0.2">5 </text>
<path d="M97.55 797.40 L97.55 791.84 L95.70 792.86 L95.70 792.10 L97.64 791.07 L98.60 791.07 L98.60 797.40 Z" fill="#000" stroke="#000" stroke-width="0.2"/>
<text x="87.95" y="797.40" font-size="9.2" textLength="13.22" lengthAdjust="spacingAndGlyphs" stroke="#000" stroke-width="0.2">3 </text>
<text x="116.00" y="797.40" font-size="9.2" textLength="11.14" lengthAdjust="spacingAndGlyphs" stroke="#000" stroke-width="0.2">28</text>
<path d="M146.33 797.40 L146.33 791.84 L144.70 792.86 L144.70 792.10 L146.41 791.07 L147.26 791.07 L147.26 797.40 Z" fill="#000" stroke="#000" stroke-width="0.2"/>
<text x="143.69" y="797.40" font-size="9.2" textLength="11.67" lengthAdjust="spacingAndGlyphs" stroke="#000" stroke-width="0.2"> 3</text>
<text x="174.41" y="797.40" font-size="9.2" textLength="5.40" lengthAdjust="spacingAndGlyphs" stroke="#000" stroke-width="0.2">5</text>
<path d="M204.44 797.40 L204.44 791.84 L202.40 792.86 L202.40 792.10 L204.54 791.07 L205.60 791.07 L205.60 797.40 Z" fill="#000" stroke="#000" stroke-width="0.2"/>
<text x="201.14" y="797.40" font-size="9.2" textLength="7.30" lengthAdjust="spacingAndGlyphs" stroke="#000" stroke-width="0.2"> </text>
<text x="284.14" y="562.20" font-size="15.8" font-weight="bold" textLength="10.60" lengthAdjust="spacingAndGlyphs" stroke="#000" stroke-width="0.35">F</text>
<text x="329.07" y="558.25" font-size="9.1" font-weight="bold" textLength="40.96" lengthAdjust="spacingAndGlyphs" stroke="#000" stroke-width="0.25">RNA-Seq</text>
<text x="329.07" y="569.35" font-size="9.1" font-weight="bold" textLength="22.24" lengthAdjust="spacingAndGlyphs" stroke="#000" stroke-width="0.25">ABC,</text>
<text x="353.93" y="569.35" font-size="9.1" font-weight="bold" font-style="italic" textLength="39.32" lengthAdjust="spacingAndGlyphs" stroke="#000" stroke-width="0.25">FCGR2B</text>
<text x="395.72" y="569.35" font-size="9.1" font-weight="bold" textLength="102.45" lengthAdjust="spacingAndGlyphs" stroke="#000" stroke-width="0.25">(categorical, stratified)</text>
<text x="329.43" y="580.25" font-size="9.1" font-weight="bold" textLength="35.91" lengthAdjust="spacingAndGlyphs" stroke="#000" stroke-width="0.25">Schmitz</text>
<line x1="329.05" y1="587.80" x2="329.05" y2="726.20" stroke="#000" stroke-width="1.55"/>
<line x1="328.45" y1="725.60" x2="511.10" y2="725.60" stroke="#000" stroke-width="1.6"/>
<line x1="324.50" y1="593.80" x2="329.05" y2="593.80" stroke="#000" stroke-width="1.4"/>
<path d="M301.35 596.60 L301.35 590.44 L299.60 591.57 L299.60 590.72 L301.43 589.58 L302.34 589.58 L302.34 596.60 Z" fill="#000" stroke="#000" stroke-width="0.2"/>
<text x="298.52" y="596.60" font-size="10.2" textLength="21.92" lengthAdjust="spacingAndGlyphs" stroke="#000" stroke-width="0.2"> .00</text>
<line x1="324.50" y1="625.20" x2="329.05" y2="625.20" stroke="#000" stroke-width="1.4"/>
<text x="299.17" y="628.00" font-size="10.2" textLength="21.29" lengthAdjust="spacingAndGlyphs" stroke="#000" stroke-width="0.2">0.75</text>
<line x1="324.50" y1="656.60" x2="329.05" y2="656.60" stroke="#000" stroke-width="1.4"/>
<text x="299.17" y="659.40" font-size="10.2" textLength="21.25" lengthAdjust="spacingAndGlyphs" stroke="#000" stroke-width="0.2">0.50</text>
<line x1="324.50" y1="688.00" x2="329.05" y2="688.00" stroke="#000" stroke-width="1.4"/>
<text x="299.17" y="690.80" font-size="10.2" textLength="21.29" lengthAdjust="spacingAndGlyphs" stroke="#000" stroke-width="0.2">0.25</text>
<line x1="324.50" y1="719.40" x2="329.05" y2="719.40" stroke="#000" stroke-width="1.4"/>
<text x="299.17" y="722.20" font-size="10.2" textLength="21.25" lengthAdjust="spacingAndGlyphs" stroke="#000" stroke-width="0.2">0.00</text>
<line x1="337.40" y1="725.60" x2="337.40" y2="730.30" stroke="#000" stroke-width="1.4"/>
<text x="334.24" y="741.30" font-size="10.8" textLength="6.52" lengthAdjust="spacingAndGlyphs" stroke="#000" stroke-width="0.2">0</text>
<line x1="365.25" y1="725.60" x2="365.25" y2="730.30" stroke="#000" stroke-width="1.4"/>
<text x="362.10" y="741.30" font-size="10.8" textLength="6.57" lengthAdjust="spacingAndGlyphs" stroke="#000" stroke-width="0.2">3</text>
<line x1="393.10" y1="725.60" x2="393.10" y2="730.30" stroke="#000" stroke-width="1.4"/>
<text x="389.78" y="741.30" font-size="10.8" textLength="6.75" lengthAdjust="spacingAndGlyphs" stroke="#000" stroke-width="0.2">6</text>
<line x1="420.95" y1="725.60" x2="420.95" y2="730.30" stroke="#000" stroke-width="1.4"/>
<text x="417.68" y="741.30" font-size="10.8" textLength="6.74" lengthAdjust="spacingAndGlyphs" stroke="#000" stroke-width="0.2">9</text>
<line x1="448.80" y1="725.60" x2="448.80" y2="730.30" stroke="#000" stroke-width="1.4"/>
<path d="M445.50 741.30 L445.50 734.78 L443.60 735.97 L443.60 735.08 L445.59 733.87 L446.58 733.87 L446.58 741.30 Z" fill="#000" stroke="#000" stroke-width="0.2"/>
<text x="442.42" y="741.30" font-size="10.8" textLength="13.59" lengthAdjust="spacingAndGlyphs" stroke="#000" stroke-width="0.2"> 2</text>
<line x1="476.65" y1="725.60" x2="476.65" y2="730.30" stroke="#000" stroke-width="1.4"/>
<path d="M473.33 741.30 L473.33 734.78 L471.45 735.97 L471.45 735.08 L473.42 733.87 L474.40 733.87 L474.40 741.30 Z" fill="#000" stroke="#000" stroke-width="0.2"/>
<text x="470.28" y="741.30" font-size="10.8" textLength="13.47" lengthAdjust="spacingAndGlyphs" stroke="#000" stroke-width="0.2"> 5</text>
<line x1="504.50" y1="725.60" x2="504.50" y2="730.30" stroke="#000" stroke-width="1.4"/>
<path d="M501.18 741.30 L501.18 734.78 L499.30 735.97 L499.30 735.08 L501.27 733.87 L502.26 733.87 L502.26 741.30 Z" fill="#000" stroke="#000" stroke-width="0.2"/>
<text x="498.13" y="741.30" font-size="10.8" textLength="13.49" lengthAdjust="spacingAndGlyphs" stroke="#000" stroke-width="0.2"> 8</text>
<text x="396.75" y="758.20" font-size="12.4" textLength="15.41" lengthAdjust="spacingAndGlyphs" stroke="#000" stroke-width="0.35">PFS</text>
<text x="415.35" y="758.20" font-size="12.4" textLength="27.50" lengthAdjust="spacingAndGlyphs" stroke="#000" stroke-width="0.35">(years)</text>
<text x="291.70" y="691.59" font-size="12.4" textLength="30.77" lengthAdjust="spacingAndGlyphs" stroke="#000" stroke-width="0.35" transform="rotate(-90 291.70 691.59)">Survival</text>
<text x="291.70" y="658.48" font-size="12.4" textLength="41.20" lengthAdjust="spacingAndGlyphs" stroke="#000" stroke-width="0.35" transform="rotate(-90 291.70 658.48)">probability</text>
<path d="M366.67 599.40 L366.67 593.60 L365.21 594.67 L365.21 593.87 L366.74 592.80 L367.50 592.80 L367.50 599.40 Z" fill="#000" stroke="#000" stroke-width="0.15"/>
<text x="345.43" y="599.40" font-size="9.6" textLength="125.89" lengthAdjust="spacingAndGlyphs" stroke="#000" stroke-width="0.15">HR,  .62; 95% CI, 0.92–2.85; </text>
<text x="471.01" y="599.40" font-size="9.6" font-style="italic" textLength="7.43" lengthAdjust="spacingAndGlyphs" stroke="#000" stroke-width="0.15">P</text>
<line x1="480.08" y1="595.85" x2="485.88" y2="595.85" stroke="#555" stroke-width="1.1"/>
<line x1="480.08" y1="598.15" x2="485.88" y2="598.15" stroke="#555" stroke-width="1.1"/>
<text x="485.74" y="599.40" font-size="9.6" textLength="26.23" lengthAdjust="spacingAndGlyphs" stroke="#000" stroke-width="0.15"> .0937</text>
<path d="M338.4 593.5 L339.9 600.9 L341.9 602.4 L341.9 608.8 L343.4 608.8 L343.4 615.2 L344.9 615.2 L345.5 629.6 L347.0 637.5 L349.0 643.5 L350.5 649.4 L351.5 651.9 L356.2 651.9 L356.2 659.3 L389.2 659.5 L389.2 663.5 L397.9 663.5 L397.9 667.2 L456.5 667.2" fill="none" stroke="#1030a0" stroke-width="2.3" stroke-linejoin="round" stroke-linecap="round"/>
<line x1="400.8" y1="664.9" x2="400.8" y2="669.5" stroke="#1030a0" stroke-width="1.1"/>
<line x1="402.7" y1="664.9" x2="402.7" y2="669.5" stroke="#1030a0" stroke-width="1.1"/>
<line x1="414.2" y1="664.9" x2="414.2" y2="669.5" stroke="#1030a0" stroke-width="1.1"/>
<line x1="419.0" y1="664.9" x2="419.0" y2="669.5" stroke="#1030a0" stroke-width="1.1"/>
<line x1="421.0" y1="664.9" x2="421.0" y2="669.5" stroke="#1030a0" stroke-width="1.1"/>
<line x1="426.7" y1="664.9" x2="426.7" y2="669.5" stroke="#1030a0" stroke-width="1.1"/>
<line x1="431.5" y1="664.9" x2="431.5" y2="669.5" stroke="#1030a0" stroke-width="1.1"/>
<line x1="435.4" y1="664.9" x2="435.4" y2="669.5" stroke="#1030a0" stroke-width="1.1"/>
<line x1="437.3" y1="664.9" x2="437.3" y2="669.5" stroke="#1030a0" stroke-width="1.1"/>
<line x1="443.1" y1="664.9" x2="443.1" y2="669.5" stroke="#1030a0" stroke-width="1.1"/>
<line x1="456.5" y1="664.9" x2="456.5" y2="669.5" stroke="#1030a0" stroke-width="1.1"/>
<line x1="369.2" y1="656.7" x2="369.2" y2="661.3" stroke="#1030a0" stroke-width="1.1"/>
<line x1="374.0" y1="656.7" x2="374.0" y2="661.3" stroke="#1030a0" stroke-width="1.1"/>
<line x1="351.3" y1="649.5" x2="351.3" y2="653.3" stroke="#1030a0" stroke-width="1.0"/>
<line x1="356.9" y1="657.4" x2="356.9" y2="661.2" stroke="#1030a0" stroke-width="1.0"/>
<line x1="362.0" y1="657.4" x2="362.0" y2="661.2" stroke="#1030a0" stroke-width="1.0"/>
<line x1="368.7" y1="657.5" x2="368.7" y2="661.3" stroke="#1030a0" stroke-width="1.0"/>
<line x1="373.5" y1="657.5" x2="373.5" y2="661.3" stroke="#1030a0" stroke-width="1.0"/>
<line x1="379.9" y1="657.5" x2="379.9" y2="661.3" stroke="#1030a0" stroke-width="1.0"/>
<line x1="386.2" y1="657.6" x2="386.2" y2="661.4" stroke="#1030a0" stroke-width="1.0"/>
<line x1="390.1" y1="661.6" x2="390.1" y2="665.4" stroke="#1030a0" stroke-width="1.0"/>
<line x1="394.1" y1="661.6" x2="394.1" y2="665.4" stroke="#1030a0" stroke-width="1.0"/>
<path d="M338.4 593.5 L339.0 600.0 L340.4 626.6 L342.0 626.6 L343.5 645.4 L345.3 647.4 L346.5 654.4 L349.0 659.3 L349.5 665.7 L355.5 665.7 L356.9 671.5 L358.7 675.6 L362.7 675.6 L362.7 679.6 L371.3 679.6 L371.3 683.7 L380.6 683.7 L380.6 686.5 L396.7 686.5 L396.7 691.5 L453.1 691.5" fill="none" stroke="#44ccf4" stroke-width="2.3" stroke-linejoin="round" stroke-linecap="round"/>
<line x1="397.9" y1="689.2" x2="397.9" y2="693.8" stroke="#44ccf4" stroke-width="1.1"/>
<line x1="404.6" y1="689.2" x2="404.6" y2="693.8" stroke="#44ccf4" stroke-width="1.1"/>
<line x1="408.5" y1="689.2" x2="408.5" y2="693.8" stroke="#44ccf4" stroke-width="1.1"/>
<line x1="419.0" y1="689.2" x2="419.0" y2="693.8" stroke="#44ccf4" stroke-width="1.1"/>
<line x1="423.8" y1="689.2" x2="423.8" y2="693.8" stroke="#44ccf4" stroke-width="1.1"/>
<line x1="453.1" y1="689.2" x2="453.1" y2="693.8" stroke="#44ccf4" stroke-width="1.1"/>
<line x1="391.2" y1="684.2" x2="391.2" y2="688.8" stroke="#44ccf4" stroke-width="1.1"/>
<line x1="348.4" y1="656.1" x2="348.4" y2="659.9" stroke="#44ccf4" stroke-width="1.0"/>
<line x1="353.7" y1="663.8" x2="353.7" y2="667.6" stroke="#44ccf4" stroke-width="1.0"/>
<line x1="357.7" y1="671.5" x2="357.7" y2="675.3" stroke="#44ccf4" stroke-width="1.0"/>
<line x1="362.4" y1="673.7" x2="362.4" y2="677.5" stroke="#44ccf4" stroke-width="1.0"/>
<line x1="365.9" y1="677.7" x2="365.9" y2="681.5" stroke="#44ccf4" stroke-width="1.0"/>
<line x1="372.6" y1="681.8" x2="372.6" y2="685.6" stroke="#44ccf4" stroke-width="1.0"/>
<line x1="377.0" y1="681.8" x2="377.0" y2="685.6" stroke="#44ccf4" stroke-width="1.0"/>
<line x1="381.8" y1="684.6" x2="381.8" y2="688.4" stroke="#44ccf4" stroke-width="1.0"/>
<line x1="387.2" y1="684.6" x2="387.2" y2="688.4" stroke="#44ccf4" stroke-width="1.0"/>
<line x1="393.8" y1="684.6" x2="393.8" y2="688.4" stroke="#44ccf4" stroke-width="1.0"/>
<line x1="340.40" y1="701.00" x2="351.30" y2="701.00" stroke="#1030a0" stroke-width="2.0"/>
<line x1="345.85" y1="698.90" x2="345.85" y2="703.10" stroke="#1030a0" stroke-width="1.1"/>
<line x1="340.40" y1="714.60" x2="351.30" y2="714.60" stroke="#44ccf4" stroke-width="2.0"/>
<line x1="345.85" y1="712.50" x2="345.85" y2="716.70" stroke="#44ccf4" stroke-width="1.1"/>
<text x="355.47" y="704.20" font-size="10.31" textLength="5.86" lengthAdjust="spacingAndGlyphs" stroke="#000" stroke-width="0.15">≤</text>
<text x="361.39" y="704.00" font-size="10.9" textLength="38.42" lengthAdjust="spacingAndGlyphs" stroke="#000" stroke-width="0.15">MEDIAN</text>
<text x="354.54" y="718.82" font-size="13.59" textLength="7.81" lengthAdjust="spacingAndGlyphs" stroke="#000" stroke-width="0.15">&gt;</text>
<text x="362.09" y="718.20" font-size="10.9" textLength="38.31" lengthAdjust="spacingAndGlyphs" stroke="#000" stroke-width="0.15">MEDIAN</text>
<text x="330.76" y="770.70" font-size="8.8" textLength="58.93" lengthAdjust="spacingAndGlyphs" stroke="#000" stroke-width="0.1">Number at risk</text>
<text x="279.65" y="785.15" font-size="9.82" textLength="5.41" lengthAdjust="spacingAndGlyphs" fill="#1535a5" stroke="#1535a5" stroke-width="0.1">≤</text>
<text x="285.04" y="784.65" font-size="9.6" textLength="35.91" lengthAdjust="spacingAndGlyphs" fill="#1535a5" stroke="#1535a5" stroke-width="0.1">MEDIAN</text>
<text x="279.18" y="799.04" font-size="13.19" textLength="7.33" lengthAdjust="spacingAndGlyphs" fill="#40ccf4" stroke="#40ccf4" stroke-width="0.1">&gt;</text>
<text x="286.37" y="797.95" font-size="9.6" textLength="34.76" lengthAdjust="spacingAndGlyphs" fill="#40ccf4" stroke="#40ccf4" stroke-width="0.1">MEDIAN</text>
<path d="M340.77 784.20 L340.77 778.64 L338.95 779.66 L338.95 778.90 L340.85 777.87 L341.80 777.87 L341.80 784.20 Z" fill="#000" stroke="#000" stroke-width="0.2"/>
<text x="331.33" y="784.20" font-size="9.2" textLength="13.00" lengthAdjust="spacingAndGlyphs" stroke="#000" stroke-width="0.2">4 </text>
<path d="M361.73 784.20 L361.73 778.64 L360.10 779.66 L360.10 778.90 L361.81 777.87 L362.66 777.87 L362.66 784.20 Z" fill="#000" stroke="#000" stroke-width="0.2"/>
<text x="359.09" y="784.20" font-size="9.2" textLength="11.66" lengthAdjust="spacingAndGlyphs" stroke="#000" stroke-width="0.2"> 8</text>
<path d="M389.50 784.20 L389.50 778.64 L387.90 779.66 L387.90 778.90 L389.58 777.87 L390.42 777.87 L390.42 784.20 Z" fill="#000" stroke="#000" stroke-width="0.2"/>
<text x="386.91" y="784.20" font-size="9.2" textLength="11.50" lengthAdjust="spacingAndGlyphs" stroke="#000" stroke-width="0.2"> 4</text>
<text x="417.07" y="784.20" font-size="9.2" textLength="5.45" lengthAdjust="spacingAndGlyphs" stroke="#000" stroke-width="0.2">8</text>
<path d="M448.34 784.20 L448.34 778.64 L446.30 779.66 L446.30 778.90 L448.44 777.87 L449.50 777.87 L449.50 784.20 Z" fill="#000" stroke="#000" stroke-width="0.2"/>
<text x="445.04" y="784.20" font-size="9.2" textLength="7.30" lengthAdjust="spacingAndGlyphs" stroke="#000" stroke-width="0.2"> </text>
<text x="331.22" y="797.40" font-size="9.2" textLength="11.01" lengthAdjust="spacingAndGlyphs" stroke="#000" stroke-width="0.2">38</text>
<path d="M362.11 797.40 L362.11 791.84 L360.60 792.86 L360.60 792.10 L362.19 791.07 L362.98 791.07 L362.98 797.40 Z" fill="#000" stroke="#000" stroke-width="0.2"/>
<path d="M367.54 797.40 L367.54 791.84 L366.02 792.86 L366.02 792.10 L367.61 791.07 L368.40 791.07 L368.40 797.40 Z" fill="#000" stroke="#000" stroke-width="0.2"/>
<text x="359.66" y="797.40" font-size="9.2" textLength="10.85" lengthAdjust="spacingAndGlyphs" stroke="#000" stroke-width="0.2">  </text>
<text x="389.58" y="797.40" font-size="9.2" textLength="5.63" lengthAdjust="spacingAndGlyphs" stroke="#000" stroke-width="0.2">7</text>
<text x="416.99" y="797.40" font-size="9.2" textLength="5.62" lengthAdjust="spacingAndGlyphs" stroke="#000" stroke-width="0.2">2</text>
<path d="M448.34 797.40 L448.34 791.84 L446.30 792.86 L446.30 792.10 L448.44 791.07 L449.50 791.07 L449.50 797.40 Z" fill="#000" stroke="#000" stroke-width="0.2"/>
<text x="445.04" y="797.40" font-size="9.2" textLength="7.30" lengthAdjust="spacingAndGlyphs" stroke="#000" stroke-width="0.2"> </text>
<rect x="0" y="0" width="520" height="1.5" fill="#000"/>
<rect x="0" y="0" width="1.5" height="807" fill="#000"/>
<rect x="517.8" y="0" width="2.2" height="807" fill="#000"/>
<rect x="0" y="805" width="520" height="2" fill="#000"/>
</svg>
</body></html>
